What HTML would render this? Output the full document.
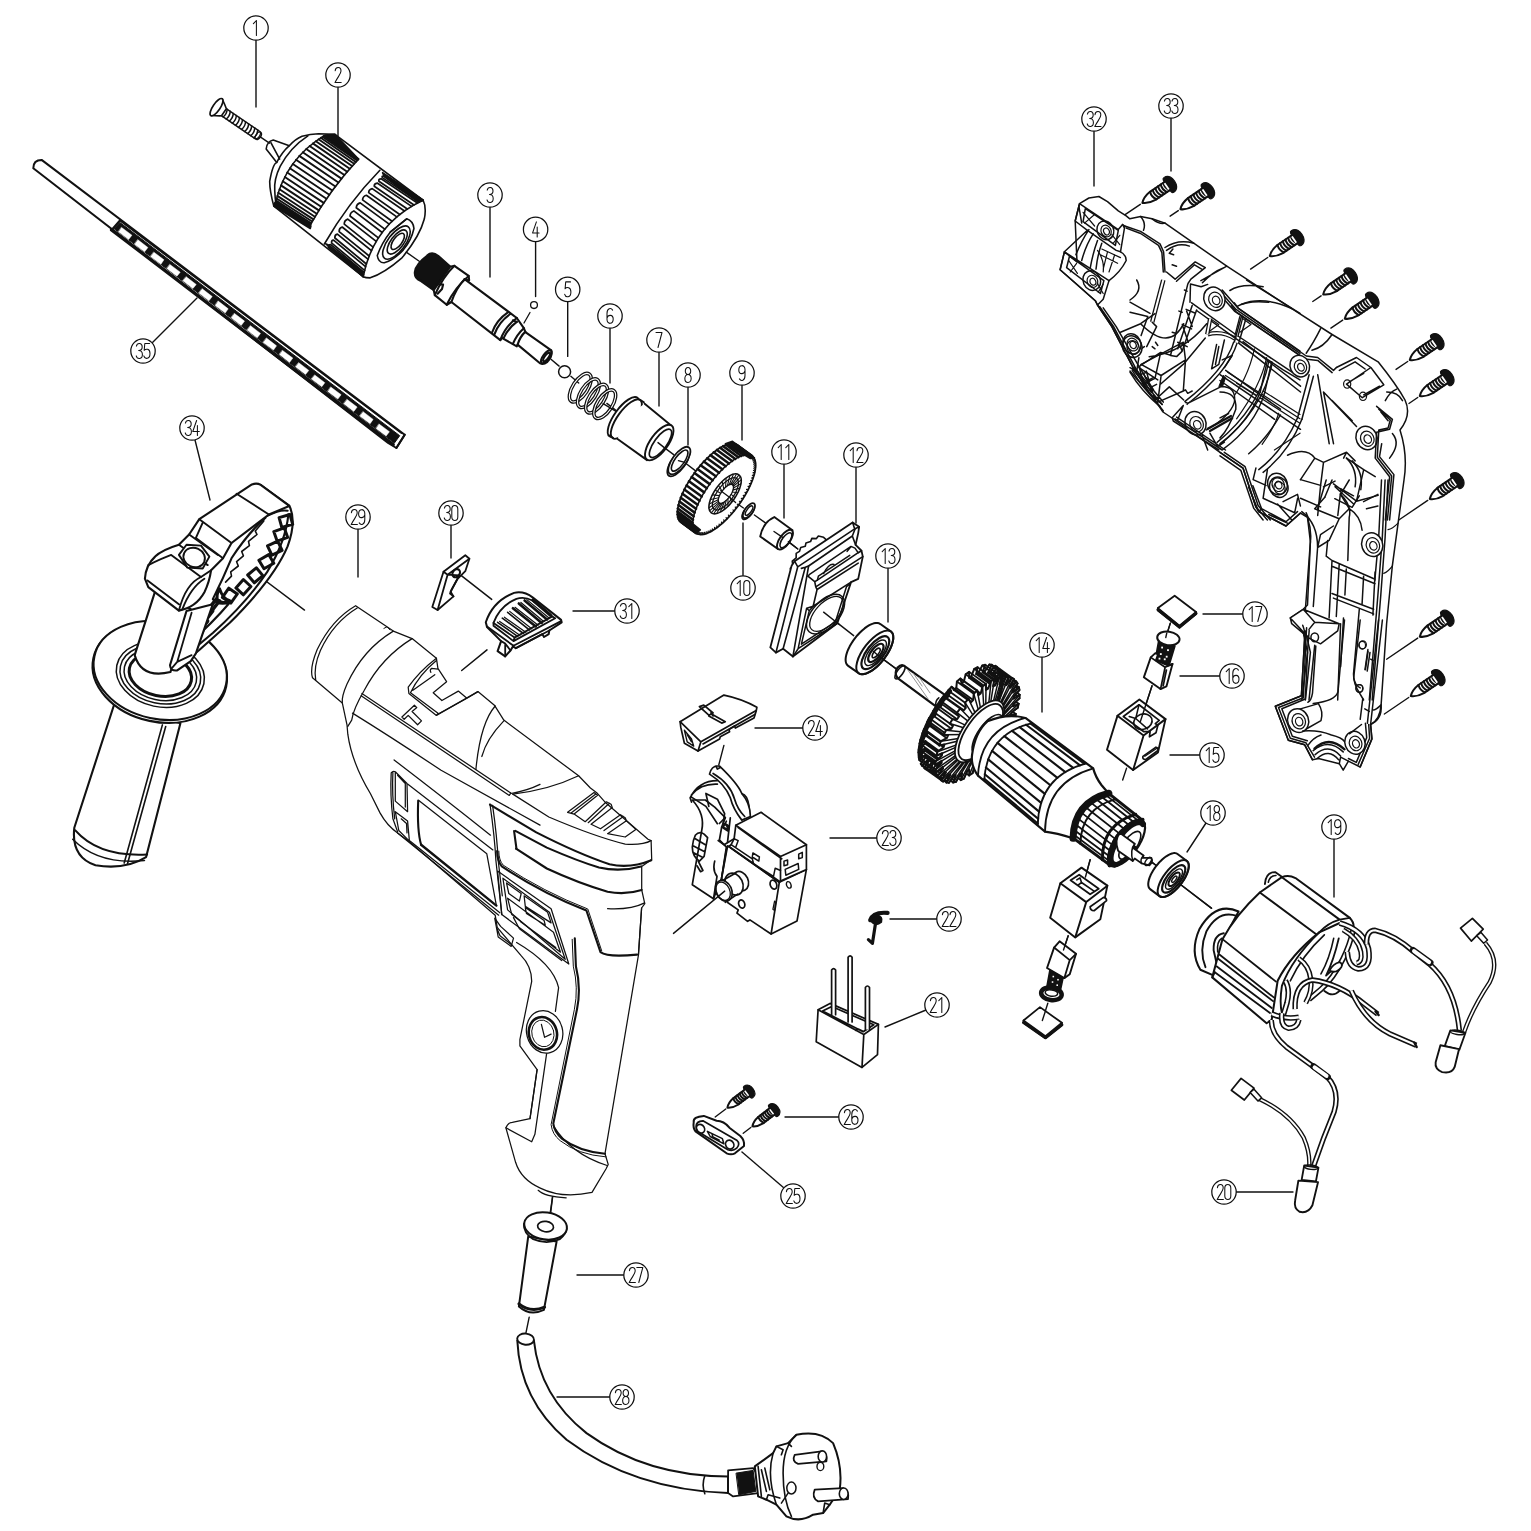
<!DOCTYPE html>
<html><head><meta charset="utf-8"><title>Exploded view</title>
<style>html,body{margin:0;padding:0;background:#fff}svg{display:block}svg *{vector-effect:non-scaling-stroke}</style></head>
<body>
<svg width="1531" height="1531" viewBox="0 0 1531 1531">
<rect width="1531" height="1531" fill="#fff" stroke="none"/>
<g fill="none" stroke="#111" stroke-width="1.6" stroke-linecap="round" stroke-linejoin="round">
<!-- p02_chuck.py -->
<g transform="translate(255,125) scale(0.117570)">
<path d="M95,205 Q100,140 155,128 L292,176 Q340,120 400,95 Q470,78 540,75 L680,80 L1430,640 Q1460,700 1440,800 Q1400,950 1250,1130 Q1100,1260 980,1300 Q940,1300 920,1290 L160,690 Q125,560 125,480 Q150,330 185,318 Z" fill="#fff"/>
<path d="M135,150 L210,290"/>
<path d="M292,176 Q230,230 185,318"/>
<path d="M450,92 Q300,190 215,350 Q160,460 168,560 Q170,620 180,690"/>
<path d="M589.4,90.4 L879.5,290.5" stroke-width="1.9"/>
<path d="M584.2,93.5 L875.8,294.5" stroke-width="1.9"/>
<path d="M574.0,99.7 L868.3,302.5" stroke-width="1.9"/>
<path d="M559.2,109.1 L857.3,314.4" stroke-width="1.9"/>
<path d="M540.3,121.7 L843.1,330.0" stroke-width="1.9"/>
<path d="M517.7,137.5 L825.8,349.2" stroke-width="1.9"/>
<path d="M492.3,156.5 L806.0,371.7" stroke-width="1.9"/>
<path d="M464.7,178.7 L784.0,397.2" stroke-width="1.9"/>
<path d="M435.8,203.9 L760.3,425.5" stroke-width="1.9"/>
<path d="M406.4,232.0 L735.3,456.1" stroke-width="1.9"/>
<path d="M377.1,262.8 L709.6,488.6" stroke-width="1.9"/>
<path d="M348.7,296.0 L683.5,522.6" stroke-width="1.9"/>
<path d="M321.8,331.0 L657.5,557.5" stroke-width="1.9"/>
<path d="M296.7,367.4 L632.1,592.8" stroke-width="1.9"/>
<path d="M273.9,404.6 L607.6,627.9" stroke-width="1.9"/>
<path d="M253.6,441.9 L584.4,662.3" stroke-width="1.9"/>
<path d="M235.9,478.5 L562.8,695.3" stroke-width="1.9"/>
<path d="M220.8,513.7 L543.1,726.4" stroke-width="1.9"/>
<path d="M208.2,546.7 L525.4,755.0" stroke-width="1.9"/>
<path d="M197.9,576.7 L509.9,780.7" stroke-width="1.9"/>
<path d="M189.9,603.0 L496.9,802.8" stroke-width="1.9"/>
<path d="M183.7,624.9 L486.3,821.1" stroke-width="1.9"/>
<path d="M179.4,641.8 L478.4,835.1" stroke-width="1.9"/>
<path d="M176.5,653.4 L473.0,844.6" stroke-width="1.9"/>
<path d="M175.2,659.3 L470.3,849.4" stroke-width="1.9"/>
<path d="M600,86 L680,80 L880,290 L866,296 Z" fill="#111"/>
<path d="M160,690 L170,660 L476,858 L470,880 Z" fill="#111"/>
<path d="M590.0,90.0 Q261.0,287.0 175.0,660.0"/>
<path d="M880.0,290.0 Q640.0,545.0 470.0,850.0"/>
<path d="M1062.0,385.0 Q790.0,665.0 590.0,1012.0"/>
<path d="M1429.6,640.2 L1104.7,425.3 Q1088.3,416.6 1100.6,429.5 L1423.1,643.2" stroke-width="1.7"/>
<path d="M1415.2,647.0 L1095.4,434.8 Q1074.9,430.3 1083.2,447.4 L1396.4,656.3" stroke-width="1.7"/>
<path d="M1381.4,664.0 L1073.2,457.8 Q1049.1,457.4 1053.7,478.5 L1352.4,679.8" stroke-width="1.7"/>
<path d="M1331.8,691.8 L1039.6,493.6 Q1012.5,496.8 1014.1,521.5 L1295.5,714.6" stroke-width="1.7"/>
<path d="M1271.4,731.1 L996.8,540.9 Q967.4,547.2 966.9,575.0 L1231.3,761.0" stroke-width="1.7"/>
<path d="M1206.0,781.9 L947.3,597.9 Q916.7,606.5 914.9,636.8 L1165.7,818.6" stroke-width="1.7"/>
<path d="M1141.2,843.5 L894.3,662.2 Q863.3,672.4 861.1,704.2 L1103.6,886.1" stroke-width="1.7"/>
<path d="M1081.7,914.1 L840.5,730.9 Q810.0,741.6 808.3,774.0 L1049.2,960.7" stroke-width="1.7"/>
<path d="M1030.9,990.4 L788.8,800.7 Q759.5,810.8 759.1,842.6 L1004.7,1038.4" stroke-width="1.7"/>
<path d="M990.5,1068.0 L741.6,867.8 Q714.3,876.2 715.7,906.2 L970.9,1114.1" stroke-width="1.7"/>
<path d="M960.6,1141.4 L700.9,928.6 Q676.0,934.1 679.8,961.3 L947.1,1182.1" stroke-width="1.7"/>
<path d="M940.3,1205.0 L668.3,979.4 Q646.1,981.1 652.8,1004.3 L931.8,1237.0" stroke-width="1.7"/>
<path d="M927.8,1253.5 L644.9,1017.1 Q625.7,1014.1 635.4,1032.8 L923.3,1273.9" stroke-width="1.7"/>
<path d="M921.5,1282.6 L631.4,1039.3 Q615.4,1031.2 628.2,1044.7 L920.1,1289.6" stroke-width="1.7"/>
<path d="M1085,405 L1430,640 L1380,650 L1100,440 Z" fill="#111"/>
<path d="M600,1010 L625,1020 L915,1250 L920,1290 Z" fill="#111"/>
<path d="M1430.0,640.0 Q1010.0,835.0 920.0,1290.0"/>
<path d="M1290,798 Q1345,815 1352,880 Q1330,980 1262,1062 Q1180,1150 1100,1172 Q1050,1175 1040,1110 Q1080,1000 1150,912 Z"/>
<path d="M1290,798 L1150,912"/>
<ellipse cx="1203" cy="1000" rx="168" ry="74" transform="rotate(-53 1203 1000)"/>
<ellipse cx="1210" cy="995" rx="122" ry="54" transform="rotate(-53 1210 995)"/>
<ellipse cx="1214" cy="990" rx="82" ry="36" transform="rotate(-53 1214 990)"/>
</g>
<!-- p03_spindle.py -->
<g stroke-width="2.1">
<g transform="translate(400,220) scale(0.156760)">
<path d="M40,205 L125,265 M965,890 L1015,932 M1090,997 L1140,1040 M1320,1170 L1385,1220" stroke-width="1.4"/>
<path d="M95,330 Q100,280 190,215 Q215,205 245,230 L320,297 L215,447 L130,387 Q90,372 95,330 Z" fill="#111"/>
<path d="M320,298 L347,292 L438,357 L441,384 L412,377 L745,625 L790,690 L800,715 L965,832 Q975,870 940,905 Q915,925 895,915 L750,795 L745,806 L650,752 L640,766 L328,523 L298,541 L222,479 L215,447 Z" fill="#fff"/>
<path d="M347,292 Q275,360 222,479"/>
<path d="M438,357 Q350,430 298,541"/>
<path d="M412,377 Q355,440 328,523"/>
<path d="M232,408 L275,412 L268,440 L240,470"/>
<path d="M690,588 Q615,640 588,716"/>
<path d="M705,598 Q630,650 603,728"/>
<path d="M745,625 Q670,680 640,766"/>
<path d="M745,650 Q690,690 660,755"/>
<path d="M720,640 L745,650"/>
<path d="M790,690 Q745,730 720,790"/>
<path d="M800,712 Q765,745 750,795"/>
<ellipse cx="933" cy="872" rx="50" ry="20" transform="rotate(-53 933 872)"/>
<ellipse cx="935" cy="874" rx="34" ry="12" transform="rotate(-53 935 874)"/>
</g>
</g>
<circle cx="534" cy="305.1" r="3.4" fill="#fff" stroke-width="1.3"/>
<path d="M530,312.5 L524,323" stroke-width="1.3"/>
<circle cx="564.6" cy="371.7" r="6" fill="#fff" stroke-width="1.5"/>
<g transform="translate(400,220) scale(0.156760)">
<ellipse cx="1150" cy="1070" rx="104" ry="48" transform="rotate(-57 1150 1070)" stroke-width="3.6"/>
<ellipse cx="1150" cy="1070" rx="104" ry="48" transform="rotate(-57 1150 1070)" stroke="#fff" stroke-width="1.1"/>
<ellipse cx="1202" cy="1105" rx="104" ry="48" transform="rotate(-57 1202 1105)" stroke-width="3.6"/>
<ellipse cx="1202" cy="1105" rx="104" ry="48" transform="rotate(-57 1202 1105)" stroke="#fff" stroke-width="1.1"/>
<ellipse cx="1254" cy="1140" rx="104" ry="48" transform="rotate(-57 1254 1140)" stroke-width="3.6"/>
<ellipse cx="1254" cy="1140" rx="104" ry="48" transform="rotate(-57 1254 1140)" stroke="#fff" stroke-width="1.1"/>
<ellipse cx="1306" cy="1175" rx="104" ry="48" transform="rotate(-57 1306 1175)" stroke-width="3.6"/>
<ellipse cx="1306" cy="1175" rx="104" ry="48" transform="rotate(-57 1306 1175)" stroke="#fff" stroke-width="1.1"/>
</g>
<!-- p07_sleeve_gear.py -->
<g transform="translate(600,370) scale(0.156760)">
<path d="M20,215 L105,265 M410,495 L470,540 M540,590 L612,645 M865,845 L915,880 M985,925 L1055,975 M1195,1090 L1262,1142" stroke-width="1.4"/>
<ellipse cx="150" cy="300" rx="152" ry="58" transform="rotate(-54 150 300)" fill="#fff" stroke-width="1.9"/>
<ellipse cx="168" cy="313" rx="150" ry="56" transform="rotate(-54 168 313)" fill="#fff" stroke-width="1.9"/>
<path d="M255,190 L280,206 M62,418 L84,434" stroke-width="1.9"/>
<path d="M285,215 L452,352 L300,575 L112,440 Q150,300 285,215 Z" fill="#fff" stroke="none"/>
<path d="M285,215 L452,352 M300,575 L112,440" stroke-width="1.9"/>
<ellipse cx="378" cy="463" rx="134" ry="56" transform="rotate(-54 378 463)" fill="#fff" stroke-width="1.9"/>
<ellipse cx="386" cy="468" rx="108" ry="40" transform="rotate(-54 386 468)" stroke-width="1.7"/>
<path d="M370,463 L410,495" stroke-width="1.4"/>
<ellipse cx="500" cy="590" rx="104" ry="44" transform="rotate(-54 500 590)" stroke-width="1.8"/>
<ellipse cx="506" cy="578" rx="104" ry="44" transform="rotate(-54 506 578)" fill="#fff" stroke-width="1.8"/>
<ellipse cx="508" cy="578" rx="80" ry="30" transform="rotate(-54 508 578)" stroke-width="1.6"/>
<path d="M500,578 L540,590" stroke-width="1.3"/>
<path d="M516.3,969.9 L505.8,959.1 L498.5,944.2 L494.6,925.6 L494.1,903.5 L497.1,878.3 L503.4,850.5 L513.1,820.6 L525.8,788.9 L541.4,756.2 L559.7,722.9 L580.2,689.7 L602.8,657.0 L626.9,625.5 L652.2,595.6 L678.2,568.0 L704.5,543.0 L730.6,521.1 L756.1,502.7 L780.6,488.1 L803.6,477.5 L824.8,471.1 L843.7,469.1 L860.1,471.4 L873.7,478.1 L970.7,549.1 L981.2,559.9 L988.5,574.8 L992.4,593.4 L992.9,615.5 L989.9,640.7 L983.6,668.5 L973.9,698.4 L961.2,730.1 L945.6,762.8 L927.3,796.1 L906.8,829.3 L884.2,862.0 L860.1,893.5 L834.8,923.4 L808.8,951.0 L782.5,976.0 L756.4,997.9 L730.9,1016.3 L706.4,1030.9 L683.4,1041.5 L662.2,1047.9 L643.3,1049.9 L626.9,1047.6 L613.3,1040.9 Z" fill="#fff" stroke-width="1.8"/>
<path d="M516.3,969.9 L613.3,1040.9" stroke-width="2.5"/>
<path d="M507.7,961.6 L604.7,1032.6" stroke-width="2.5"/>
<path d="M501.0,950.6 L598.0,1021.6" stroke-width="2.5"/>
<path d="M496.6,937.2 L593.6,1008.2" stroke-width="2.5"/>
<path d="M494.2,921.4 L591.2,992.4" stroke-width="2.5"/>
<path d="M494.1,903.5 L591.1,974.5" stroke-width="2.5"/>
<path d="M496.2,883.6 L593.2,954.6" stroke-width="2.5"/>
<path d="M500.5,861.9 L597.5,932.9" stroke-width="2.5"/>
<path d="M506.9,838.8 L603.9,909.8" stroke-width="2.5"/>
<path d="M515.4,814.4 L612.4,885.4" stroke-width="2.5"/>
<path d="M525.8,788.9 L622.8,859.9" stroke-width="2.5"/>
<path d="M538.1,762.8 L635.1,833.8" stroke-width="2.5"/>
<path d="M552.1,736.3 L649.1,807.3" stroke-width="2.5"/>
<path d="M567.6,709.6 L664.6,780.6" stroke-width="2.5"/>
<path d="M584.6,683.1 L681.6,754.1" stroke-width="2.5"/>
<path d="M602.8,657.0 L699.8,728.0" stroke-width="2.5"/>
<path d="M622.0,631.7 L719.0,702.7" stroke-width="2.5"/>
<path d="M641.9,607.3 L738.9,678.3" stroke-width="2.5"/>
<path d="M662.5,584.3 L759.5,655.3" stroke-width="2.5"/>
<path d="M683.4,562.8 L780.4,633.8" stroke-width="2.5"/>
<path d="M704.5,543.0 L801.5,614.0" stroke-width="2.5"/>
<path d="M725.4,525.2 L822.4,596.2" stroke-width="2.5"/>
<path d="M746.0,509.6 L843.0,580.6" stroke-width="2.5"/>
<path d="M766.1,496.4 L863.1,567.4" stroke-width="2.5"/>
<path d="M785.4,485.6 L882.4,556.6" stroke-width="2.5"/>
<path d="M803.6,477.5 L900.6,548.5" stroke-width="2.5"/>
<path d="M820.7,472.1 L917.7,543.1" stroke-width="2.5"/>
<path d="M836.4,469.4 L933.4,540.4" stroke-width="2.5"/>
<path d="M850.6,469.5 L947.6,540.5" stroke-width="2.5"/>
<path d="M863.1,472.4 L960.1,543.4" stroke-width="2.5"/>
<path d="M873.7,478.1 L970.7,549.1" stroke-width="2.5"/>
<path d="M613.3,1040.9 L602.8,1030.1 L595.5,1015.2 L591.6,996.6 L591.1,974.5 L594.1,949.3 L600.4,921.5 L610.1,891.6 L622.8,859.9 L638.4,827.2 L656.7,793.9 L677.2,760.7 L699.8,728.0 L723.9,696.5 L749.2,666.6 L775.2,639.0 L801.5,614.0 L827.6,592.1 L853.1,573.7 L877.6,559.1 L900.6,548.5 L921.8,542.1 L940.7,540.1 L957.1,542.4 L970.7,549.1" stroke-width="1.6"/>
<path d="M970.7,549.1 L962.5,560.4 M977.4,555.1 L968.5,565.9 M982.9,562.6 L973.5,572.8 M987.3,571.5 L977.4,581.1 M990.4,581.8 L980.1,590.8 M992.4,593.4 L981.7,601.6 M993.1,606.3 L982.1,613.7 M992.5,620.3 L981.3,626.9 M990.8,635.4 L979.4,641.1 M987.8,651.5 L976.3,656.3 M983.6,668.5 L972.0,672.3 M978.2,686.2 L966.7,689.1 M971.6,704.6 L960.3,706.6 M964.0,723.6 L952.8,724.5 M955.3,743.0 L944.4,743.0 M945.6,762.8 L935.0,761.7 M934.9,782.7 L924.7,780.6 M923.4,802.7 L913.6,799.7 M911.0,822.7 L901.8,818.7 M898.0,842.5 L889.3,837.5 M884.2,862.0 L876.1,856.1 M869.9,881.1 L862.5,874.3 M855.1,899.7 L848.4,892.1 M840.0,917.6 L834.0,909.2 M824.5,934.7 L819.3,925.6 M808.8,951.0 L804.5,941.3 M793.1,966.4 L789.6,956.0 M777.3,980.6 L774.7,969.7 M761.6,993.8 L759.9,982.4 M746.1,1005.7 L745.3,993.9 M730.9,1016.3 L731.0,1004.1 M716.0,1025.5 L717.0,1013.1 M701.6,1033.4 L703.6,1020.7 M687.8,1039.7 L690.6,1027.0 M674.7,1044.6 L678.3,1031.8 M662.2,1047.9 L666.7,1035.1 M650.6,1049.6 L655.9,1037.0 M639.8,1049.8 L645.9,1037.4 M629.9,1048.4 L636.8,1036.3 M621.1,1045.4 L628.7,1033.7 M613.3,1040.9 L621.5,1029.6 " stroke-width="1.2"/>
<path d="M800,470 L845,455 L985,560 L960,565 Z" fill="#111"/>
<path d="M498,905 L510,960 L620,1035 L640,1020 Z" fill="#111"/>
<ellipse cx="798" cy="790" rx="66" ry="150" transform="rotate(36 798 790)" stroke-width="1.6"/>
<ellipse cx="800" cy="790" rx="52" ry="122" transform="rotate(36 800 790)" stroke-width="1.3"/>
<ellipse cx="803" cy="790" rx="30" ry="72" transform="rotate(36 803 790)" stroke-width="1.3"/>
<path d="M827.3,807.6 L839.1,841.5 M816.4,821.1 L816.1,867.0 M804.8,832.7 L791.9,888.0 M793.1,841.8 L768.2,903.3 M782.0,848.0 L746.1,912.1 M772.0,850.7 L727.1,913.7 M763.9,850.0 L712.2,908.1 M758.1,845.7 L702.3,895.7 M754.8,838.2 L698.0,877.2 M754.4,827.9 L699.4,853.6 M756.8,815.4 L706.6,826.2 M761.8,801.5 L719.1,796.8 M769.3,786.8 L736.2,767.0 M778.7,772.4 L756.9,738.5 M789.6,758.9 L779.9,713.0 M801.2,747.3 L804.1,692.0 M812.9,738.2 L827.8,676.7 M824.0,732.0 L849.9,667.9 M834.0,729.3 L868.9,666.3 M842.1,730.0 L883.8,671.9 M847.9,734.3 L893.7,684.3 M851.2,741.8 L898.0,702.8 M851.6,752.1 L896.6,726.4 M849.2,764.6 L889.4,753.8 M844.2,778.5 L876.9,783.2 M836.7,793.2 L859.8,813.0 " stroke-width="1.1"/>
<path d="M770,770 L830,815 M865,845 L830,815" stroke-width="1.3"/>
<ellipse cx="945" cy="905" rx="56" ry="25" transform="rotate(-54 945 905)" fill="#fff" stroke-width="1.8"/>
<ellipse cx="950" cy="897" rx="56" ry="25" transform="rotate(-54 950 897)" fill="#fff" stroke-width="1.8"/>
<ellipse cx="951" cy="897" rx="36" ry="14" transform="rotate(-54 951 897)" stroke-width="1.5"/>
<path d="M1112,938 L1228,1022 L1135,1142 L1022,1062 Q1040,970 1112,938 Z" fill="#fff" stroke-width="1.9"/>
<ellipse cx="1180" cy="1082" rx="74" ry="33" transform="rotate(-54 1180 1082)" fill="#fff" stroke-width="1.9"/>
<ellipse cx="1186" cy="1086" rx="56" ry="24" transform="rotate(-54 1186 1086)" stroke-width="1.6"/>
<path d="M1110,1030 L1165,1068" stroke-width="1.4"/>
</g>
<!-- p12_plate.py -->
<g transform="translate(740,490) scale(0.130634)">
<path d="M370,395 L440,450 M640,935 L870,1115 M1085,1290 L1200,1370" stroke-width="1.4"/>
<path d="M395,640 L385,600 L405,585 L400,545 L430,520 L430,485 L455,470 L465,440 L500,430 L505,405 L540,395 L550,370 L585,372 L600,352 L640,362 L665,385 L640,420 L420,560 Z" fill="#fff" stroke-width="1.6"/>
<path d="M232,1205 L395,580 L418,545 L862,248 L912,282 L905,330 L885,420 L930,465 L940,510 L905,680 L850,705 L745,1020 L405,1275 L330,1215 L275,1245 Z" fill="#fff" stroke-width="1.8"/>
<path d="M275,1245 L442,588 L418,545 M442,588 L878,298 L862,248 M878,298 L912,282" stroke-width="1.6"/>
<path d="M330,1215 L500,592 L470,600 M500,592 L525,582 L405,1275" stroke-width="1.6"/>
<path d="M525,582 L860,352 L885,420 M860,352 L880,300" stroke-width="1.6"/>
<path d="M520,660 L572,702 L592,690 L905,480 L930,465 M572,702 L580,742 L940,510 M580,742 L590,762 L905,560 M590,762 L560,890 L850,705" stroke-width="1.6"/>
<path d="M530,648 L520,660 M530,648 L850,432 L880,445 L905,480 M820,470 L850,432 M592,690 L600,660 L840,500" stroke-width="1.5"/>
<path d="M640,640 Q680,560 720,570" stroke-width="1.4"/>
<path d="M560,890 L510,905 L445,1215 L405,1275 M445,1215 L745,1020 M510,905 L530,925 L470,1180 L730,1010 L815,740 L840,720 M530,925 L560,890" stroke-width="1.5"/>
<ellipse cx="655" cy="950" rx="185" ry="100" transform="rotate(-47 655 950)" stroke-width="1.5"/>
<ellipse cx="662" cy="948" rx="165" ry="84" transform="rotate(-47 662 948)" stroke-width="1.3"/>
<path d="M640,935 L760,1030" stroke-width="1.4"/>
<path d="M825.6,1344.2 L817.9,1335.9 L812.3,1325.1 L809.2,1311.8 L808.4,1296.4 L810.1,1279.1 L814.1,1260.1 L820.5,1239.9 L829.1,1218.7 L839.8,1197.0 L852.4,1175.1 L866.6,1153.3 L882.2,1132.1 L899.0,1111.7 L916.7,1092.7 L935.0,1075.2 L953.5,1059.6 L971.9,1046.1 L990.0,1035.0 L1007.4,1026.5 L1023.8,1020.7 L1039.0,1017.7 L1052.6,1017.5 L1064.5,1020.3 L1074.4,1025.8 L1156.4,1083.8 L1164.1,1092.1 L1169.7,1102.9 L1172.8,1116.2 L1173.6,1131.6 L1171.9,1148.9 L1167.9,1167.9 L1161.5,1188.1 L1152.9,1209.3 L1142.2,1231.0 L1129.6,1252.9 L1115.4,1274.7 L1099.8,1295.9 L1083.0,1316.3 L1065.3,1335.3 L1047.0,1352.8 L1028.5,1368.4 L1010.1,1381.9 L992.0,1393.0 L974.6,1401.5 L958.2,1407.3 L943.0,1410.3 L929.4,1410.5 L917.5,1407.7 L907.6,1402.2 Z" fill="#fff" stroke-width="2.0"/>
<ellipse cx="1032" cy="1243" rx="86" ry="202" transform="rotate(38 1032 1243)" stroke-width="2.0"/>
<ellipse cx="1036" cy="1245" rx="64" ry="152" transform="rotate(38 1036 1245)" stroke-width="2.2"/>
<ellipse cx="1038" cy="1246" rx="50" ry="118" transform="rotate(38 1038 1246)" stroke-width="1.4"/>
<ellipse cx="1040" cy="1247" rx="36" ry="84" transform="rotate(38 1040 1247)" stroke-width="2.2"/>
<ellipse cx="1042" cy="1248" rx="18" ry="44" transform="rotate(38 1042 1248)" fill="#fff" stroke-width="1.6"/>
<path d="M1020,1235 L1085,1290" stroke-width="1.4"/>
</g>
<!-- p14_armature.py -->
<g transform="translate(880,640) scale(0.195950)">
<path d="M0,85 L85,150" stroke-width="1.4"/>
<path d="M120,130 L345,290 L330,330 L280,335 L90,195 Q70,170 90,140 Q105,125 120,130 Z" fill="#fff" stroke-width="2.2"/>
<ellipse cx="102" cy="165" rx="40" ry="15" transform="rotate(-54.6 102 165)" stroke-width="1.6"/>
<path d="M140,150 L245,300 M170,170 L215,235 M200,190 L255,270" stroke-width="0.8" stroke="#777"/>
<path d="M300,295 Q280,310 285,340 M318,300 Q298,318 300,345" stroke-width="1.6"/>
<path d="M506.8,463.4 L517.0,482.9 L500.9,504.1 L482.8,495.1 L472.0,508.0 L475.7,534.3 L458.3,553.3 L446.0,536.4 L434.5,547.7 L431.6,579.7 L413.6,595.8 L407.6,571.7 L396.1,580.8 L386.7,617.1 L368.9,629.4 L369.5,599.3 L358.4,605.9 L342.9,644.8 L326.1,652.9 L333.2,618.0 L323.0,621.7 L302.0,661.7 L287.0,665.2 L300.4,627.0 L291.4,627.7 L266.0,666.9 L253.3,665.7 L272.5,625.8 L265.2,623.5 L236.4,660.3 L226.6,654.4 L250.6,614.7 L245.4,609.5 L214.4,642.1 L208.0,631.8 L235.8,594.0 L232.8,586.0 L201.1,613.2 L198.4,598.9 L228.7,564.6 L228.1,554.3 L197.0,574.8 L198.0,557.1 L229.6,527.9 L231.5,515.7 L202.3,528.6 L207.0,508.3 L238.5,485.4 L242.7,471.8 L216.8,476.5 L225.0,454.6 L255.0,439.0 L261.3,424.6 L239.8,421.0 L251.1,398.3 L278.3,390.7 L286.5,376.2 L270.3,364.4 L284.3,342.0 L307.5,342.7 L317.2,328.6 L307.0,309.1 L323.1,287.9 L341.2,296.9 L352.0,284.0 L348.3,257.7 L365.7,238.7 L378.0,255.6 L389.5,244.3 L392.4,212.3 L410.4,196.2 L416.4,220.3 L427.9,211.2 L437.3,174.9 L455.1,162.6 L454.5,192.7 L465.6,186.1 L481.1,147.2 L497.9,139.1 L490.8,174.0 L501.0,170.3 L522.0,130.3 L537.0,126.8 L523.6,165.0 L532.6,164.3 L558.0,125.1 L570.7,126.3 L551.5,166.2 L558.8,168.5 L587.6,131.7 L597.4,137.6 L573.4,177.3 L578.6,182.5 L609.6,149.9 L616.0,160.2 L588.2,198.0 L591.2,206.0 L622.9,178.8 L625.6,193.1 L595.3,227.4 L595.9,237.7 L627.0,217.2 L626.0,234.9 L594.4,264.1 L592.5,276.3 L621.7,263.4 L617.0,283.7 L585.5,306.6 L581.3,320.2 L607.2,315.5 L599.0,337.4 L569.0,353.0 L562.7,367.4 L584.2,371.0 L572.9,393.7 L545.7,401.3 L537.5,415.8 L553.7,427.6 L539.7,450.0 L516.5,449.3 Z" fill="#fff" stroke-width="2.0"/>
<path d="M506.8,463.4 L592.8,525.4 M517.0,482.9 L603.0,544.9 M500.9,504.1 L586.9,566.1 M482.8,495.1 L568.8,557.1 M472.0,508.0 L558.0,570.0 M475.7,534.3 L561.7,596.3 M458.3,553.3 L544.3,615.3 M446.0,536.4 L532.0,598.4 M434.5,547.7 L520.5,609.7 M431.6,579.7 L517.6,641.7 M413.6,595.8 L499.6,657.8 M407.6,571.7 L493.6,633.7 M396.1,580.8 L482.1,642.8 M386.7,617.1 L472.7,679.1 M368.9,629.4 L454.9,691.4 M369.5,599.3 L455.5,661.3 M358.4,605.9 L444.4,667.9 M342.9,644.8 L428.9,706.8 M326.1,652.9 L412.1,714.9 M333.2,618.0 L419.2,680.0 M323.0,621.7 L409.0,683.7 M302.0,661.7 L388.0,723.7 M287.0,665.2 L373.0,727.2 M300.4,627.0 L386.4,689.0 M291.4,627.7 L377.4,689.7 M266.0,666.9 L352.0,728.9 M253.3,665.7 L339.3,727.7 M272.5,625.8 L358.5,687.8 M265.2,623.5 L351.2,685.5 M236.4,660.3 L322.4,722.3 M226.6,654.4 L312.6,716.4 M250.6,614.7 L336.6,676.7 M245.4,609.5 L331.4,671.5 M214.4,642.1 L300.4,704.1 M208.0,631.8 L294.0,693.8 M235.8,594.0 L321.8,656.0 M232.8,586.0 L318.8,648.0 M201.1,613.2 L287.1,675.2 M198.4,598.9 L284.4,660.9 M228.7,564.6 L314.7,626.6 M228.1,554.3 L314.1,616.3 M197.0,574.8 L283.0,636.8 M198.0,557.1 L284.0,619.1 M229.6,527.9 L315.6,589.9 M231.5,515.7 L317.5,577.7 M202.3,528.6 L288.3,590.6 M207.0,508.3 L293.0,570.3 M238.5,485.4 L324.5,547.4 M242.7,471.8 L328.7,533.8 M216.8,476.5 L302.8,538.5 M225.0,454.6 L311.0,516.6 M255.0,439.0 L341.0,501.0 M261.3,424.6 L347.3,486.6 M239.8,421.0 L325.8,483.0 M251.1,398.3 L337.1,460.3 M278.3,390.7 L364.3,452.7 M286.5,376.2 L372.5,438.2 M270.3,364.4 L356.3,426.4 M284.3,342.0 L370.3,404.0 M307.5,342.7 L393.5,404.7 M317.2,328.6 L403.2,390.6 M307.0,309.1 L393.0,371.1 M323.1,287.9 L409.1,349.9 M341.2,296.9 L427.2,358.9 M352.0,284.0 L438.0,346.0 M348.3,257.7 L434.3,319.7 M365.7,238.7 L451.7,300.7 M378.0,255.6 L464.0,317.6 M389.5,244.3 L475.5,306.3 M392.4,212.3 L478.4,274.3 M410.4,196.2 L496.4,258.2 M416.4,220.3 L502.4,282.3 M427.9,211.2 L513.9,273.2 M437.3,174.9 L523.3,236.9 M455.1,162.6 L541.1,224.6 M454.5,192.7 L540.5,254.7 M465.6,186.1 L551.6,248.1 M481.1,147.2 L567.1,209.2 M497.9,139.1 L583.9,201.1 M490.8,174.0 L576.8,236.0 M501.0,170.3 L587.0,232.3 M522.0,130.3 L608.0,192.3 M537.0,126.8 L623.0,188.8 M523.6,165.0 L609.6,227.0 M532.6,164.3 L618.6,226.3 M558.0,125.1 L644.0,187.1 M570.7,126.3 L656.7,188.3 M551.5,166.2 L637.5,228.2 M558.8,168.5 L644.8,230.5 M587.6,131.7 L673.6,193.7 M597.4,137.6 L683.4,199.6 M573.4,177.3 L659.4,239.3 M578.6,182.5 L664.6,244.5 M609.6,149.9 L695.6,211.9 M616.0,160.2 L702.0,222.2 M588.2,198.0 L674.2,260.0 M591.2,206.0 L677.2,268.0 M622.9,178.8 L708.9,240.8 M625.6,193.1 L711.6,255.1 M595.3,227.4 L681.3,289.4 M595.9,237.7 L681.9,299.7 M627.0,217.2 L713.0,279.2 M626.0,234.9 L712.0,296.9 M594.4,264.1 L680.4,326.1 M592.5,276.3 L678.5,338.3 M621.7,263.4 L707.7,325.4 M617.0,283.7 L703.0,345.7 M585.5,306.6 L671.5,368.6 M581.3,320.2 L667.3,382.2 M607.2,315.5 L693.2,377.5 M599.0,337.4 L685.0,399.4 M569.0,353.0 L655.0,415.0 M562.7,367.4 L648.7,429.4 M584.2,371.0 L670.2,433.0 M572.9,393.7 L658.9,455.7 M545.7,401.3 L631.7,463.3 M537.5,415.8 L623.5,477.8 M553.7,427.6 L639.7,489.6 M539.7,450.0 L625.7,512.0 M516.5,449.3 L602.5,511.3 " stroke-width="1.8"/>
<path d="M592.8,525.4 L603.0,544.9 L586.9,566.1 L568.8,557.1 L558.0,570.0 L561.7,596.3 L544.3,615.3 L532.0,598.4 L520.5,609.7 L517.6,641.7 L499.6,657.8 L493.6,633.7 L482.1,642.8 L472.7,679.1 L454.9,691.4 L455.5,661.3 L444.4,667.9 L428.9,706.8 L412.1,714.9 L419.2,680.0 L409.0,683.7 L388.0,723.7 L373.0,727.2 L386.4,689.0 L377.4,689.7 L352.0,728.9 L339.3,727.7 L358.5,687.8 L351.2,685.5 L322.4,722.3 L312.6,716.4 L336.6,676.7 L331.4,671.5 L300.4,704.1 L294.0,693.8 L321.8,656.0 L318.8,648.0 L287.1,675.2 L284.4,660.9 L314.7,626.6 L314.1,616.3 L283.0,636.8 L284.0,619.1 L315.6,589.9 L317.5,577.7 L288.3,590.6 L293.0,570.3 L324.5,547.4 L328.7,533.8 L302.8,538.5 L311.0,516.6 L341.0,501.0 L347.3,486.6 L325.8,483.0 L337.1,460.3 L364.3,452.7 L372.5,438.2 L356.3,426.4 L370.3,404.0 L393.5,404.7 L403.2,390.6 L393.0,371.1 L409.1,349.9 L427.2,358.9 L438.0,346.0 L434.3,319.7 L451.7,300.7 L464.0,317.6 L475.5,306.3 L478.4,274.3 L496.4,258.2 L502.4,282.3 L513.9,273.2 L523.3,236.9 L541.1,224.6 L540.5,254.7 L551.6,248.1 L567.1,209.2 L583.9,201.1 L576.8,236.0 L587.0,232.3 L608.0,192.3 L623.0,188.8 L609.6,227.0 L618.6,226.3 L644.0,187.1 L656.7,188.3 L637.5,228.2 L644.8,230.5 L673.6,193.7 L683.4,199.6 L659.4,239.3 L664.6,244.5 L695.6,211.9 L702.0,222.2 L674.2,260.0 L677.2,268.0 L708.9,240.8 L711.6,255.1 L681.3,289.4 L681.9,299.7 L713.0,279.2 L712.0,296.9 L680.4,326.1 L678.5,338.3 L707.7,325.4 L703.0,345.7 L671.5,368.6 L667.3,382.2 L693.2,377.5 L685.0,399.4 L655.0,415.0 L648.7,429.4 L670.2,433.0 L658.9,455.7 L631.7,463.3 L623.5,477.8 L639.7,489.6 L625.7,512.0 L602.5,511.3 Z" fill="#fff" stroke-width="2.0"/>
<path d="M603.0,544.9 L570.5,513.4 M586.9,566.1 L562.5,524.0 M561.7,596.3 L549.9,539.2 M544.3,615.3 L541.2,548.7 M517.6,641.7 L527.8,561.9 M499.6,657.8 L518.8,569.9 M472.7,679.1 L505.3,580.6 M454.9,691.4 L496.5,586.7 M428.9,706.8 L483.4,594.4 M412.1,714.9 L475.0,598.5 M388.0,723.7 L463.0,602.8 M373.0,727.2 L455.5,604.6 M352.0,728.9 L445.0,605.4 M339.3,727.7 L438.7,604.8 M322.4,722.3 L430.2,602.1 M312.6,716.4 L425.3,599.2 M300.4,704.1 L419.2,593.1 M294.0,693.8 L416.0,587.9 M287.1,675.2 L412.6,578.6 M284.4,660.9 L411.2,571.4 M283.0,636.8 L410.5,559.4 M284.0,619.1 L411.0,550.6 M288.3,590.6 L413.2,536.3 M293.0,570.3 L415.5,526.2 M302.8,538.5 L420.4,510.3 M311.0,516.6 L424.5,499.3 M325.8,483.0 L431.9,482.5 M337.1,460.3 L437.6,471.2 M356.3,426.4 L447.1,454.2 M370.3,404.0 L454.1,443.0 M393.0,371.1 L465.5,426.6 M409.1,349.9 L473.5,416.0 M434.3,319.7 L486.1,400.8 M451.7,300.7 L494.8,391.3 M478.4,274.3 L508.2,378.1 M496.4,258.2 L517.2,370.1 M523.3,236.9 L530.7,359.4 M541.1,224.6 L539.5,353.3 M567.1,209.2 L552.6,345.6 M583.9,201.1 L561.0,341.5 M608.0,192.3 L573.0,337.2 M623.0,188.8 L580.5,335.4 M644.0,187.1 L591.0,334.6 M656.7,188.3 L597.3,335.2 M673.6,193.7 L605.8,337.9 M683.4,199.6 L610.7,340.8 M695.6,211.9 L616.8,346.9 M702.0,222.2 L620.0,352.1 M708.9,240.8 L623.4,361.4 M711.6,255.1 L624.8,368.6 M713.0,279.2 L625.5,380.6 M712.0,296.9 L625.0,389.4 M707.7,325.4 L622.8,403.7 M703.0,345.7 L620.5,413.8 M693.2,377.5 L615.6,429.7 M685.0,399.4 L611.5,440.7 M670.2,433.0 L604.1,457.5 M658.9,455.7 L598.4,468.8 M639.7,489.6 L588.9,485.8 M625.7,512.0 L581.9,497.0 " stroke-width="1.5"/>
<path d="M206.6,603.6 L205.1,593.5 L204.4,582.7 L204.4,571.2 L205.2,559.0 L206.7,546.3 L209.0,533.0 L212.0,519.2 L215.7,505.0 L220.1,490.4 L225.2,475.4 L231.0,460.1 L237.5,444.7 L244.6,429.0 L252.3,413.2 L260.6,397.4 L269.4,381.5 L278.8,365.7 L288.6,350.0 L298.9,334.5 L309.5,319.2 L320.6,304.2 L332.0,289.5 L343.7,275.2 L355.6,261.3" stroke-width="5"/>
<path d="M605.7,158.0 L608.9,163.4 L611.7,169.3 L614.1,175.7 L616.1,182.6 L617.6,189.8 L618.8,197.6 L619.4,205.7 L619.7,214.2 L619.5,223.2 L618.9,232.4 L617.8,242.1 L616.3,252.0 L614.4,262.3 L612.0,272.8 L609.3,283.6 L606.1,294.6 L602.5,305.8 L598.5,317.3 L594.1,328.9 L589.4,340.6 L584.2,352.4 L578.8,364.4 L572.9,376.4 L566.7,388.4" stroke-width="4"/>
<ellipse cx="508" cy="466" rx="80" ry="185" transform="rotate(35.4 508 466)" fill="#fff" stroke-width="1.8"/>
<ellipse cx="514" cy="470" rx="72" ry="168" transform="rotate(35.4 514 470)" stroke-width="1.8"/>
<ellipse cx="548" cy="480" rx="46" ry="118" transform="rotate(35.4 548 480)" fill="#fff" stroke-width="1.6"/>
<path d="M548,415 Q650,372 742,398 L1088,655 Q1100,700 1130,740 Q1150,765 1168,782 L985,1012 Q900,985 842,978 L500,692 Q462,640 470,585 Q485,470 548,415 Z" fill="#fff" stroke-width="2.2"/>
<path d="M742.0,398.0 Q512.9,456.0 500.0,692.0" stroke-width="1.8"/>
<path d="M775.0,424.0 Q545.9,480.4 532.0,716.0" stroke-width="1.8"/>
<path d="M1052.0,630.0 Q810.5,694.9 805.0,945.0" stroke-width="1.8"/>
<path d="M1088.0,655.0 Q845.7,725.6 842.0,978.0" stroke-width="1.8"/>
<path d="M767.3,426.0 L1043.8,632.3 M745.3,432.4 L1020.7,639.5 M712.5,444.4 L986.3,653.0 M673.9,463.4 L946.0,674.0 M634.7,490.4 L905.4,703.6 M599.7,525.2 L869.5,741.2 M571.9,566.0 L841.5,785.1 M552.4,609.4 L822.5,831.5 M540.7,650.8 L811.7,875.7 M534.8,685.2 L806.8,912.3 M532.5,708.0 L805.3,936.5 " stroke-width="2.1"/>
<path d="M1168,782 L1340,918 Q1352,980 1290,1070 Q1230,1150 1172,1150 L985,1012 Q990,900 1060,830 Q1120,775 1168,782 Z" fill="#fff" stroke-width="2.2"/>
<path d="M1168.0,782.0 Q990.4,828.5 985.0,1012.0" stroke-width="7"/>
<path d="M1205.0,812.0 Q1027.7,857.1 1022.0,1040.0" stroke-width="2"/>
<path d="M1305.0,890.0 Q1131.3,941.0 1135.0,1122.0" stroke-width="3"/>
<path d="M1340.0,918.0 Q1166.9,969.5 1172.0,1150.0" stroke-width="4"/>
<path d="M1162.9,783.4 L1335.0,919.5 M1148.2,787.8 L1320.8,924.3 M1126.1,795.9 L1299.3,933.0 M1099.3,808.5 L1273.5,946.3 M1071.3,826.3 L1246.8,964.7 M1045.1,849.4 L1222.2,988.2 M1023.1,877.1 L1202.0,1016.2 M1006.4,907.8 L1187.3,1046.9 M995.4,939.1 L1178.1,1078.0 M989.1,968.0 L1173.5,1106.6 M986.2,991.4 L1172.0,1129.7 M985.2,1006.7 L1171.9,1144.8 " stroke-width="1.8"/>
<ellipse cx="1258" cy="1036" rx="60" ry="140" transform="rotate(35.4 1258 1036)" fill="#fff" stroke-width="2.2"/>
<path d="M1195.4,1145.8 L1188.4,1142.7 L1183.0,1137.5 L1179.1,1130.2 L1177.0,1121.1 L1176.7,1110.2 L1178.1,1097.8 L1181.2,1084.1 L1186.1,1069.6 L1192.5,1054.3 L1200.3,1038.8 L1209.4,1023.2 L1219.6,1007.9 L1230.7,993.2 L1242.4,979.5 L1254.5,967.0 L1266.8,955.9 L1279.0,946.6 L1290.9,939.1 L1302.1,933.7 L1312.5,930.4 L1321.9,929.4 L1330.0,930.6 L1336.7,934.1 L1341.9,939.7" stroke-width="6"/>
<ellipse cx="1275" cy="1048" rx="34" ry="84" transform="rotate(35.4 1275 1048)" stroke-width="1.6"/>
<path d="M1172,1150 Q1240,1150 1300,1060" stroke-width="4"/>
<path d="M1225,985 L1300,1040 L1292,1062 L1345,1100 L1340,1112 L1385,1112 Q1395,1130 1375,1150 L1335,1140 L1300,1115 L1290,1128 L1215,1075 Q1195,1020 1225,985 Z" fill="#fff" stroke-width="1.8"/>
<path d="M1300,1040 Q1275,1070 1290,1128 M1345,1100 Q1325,1120 1335,1140" stroke-width="1.5"/>
<ellipse cx="1368" cy="1130" rx="12" ry="24" transform="rotate(35.4 1368 1130)" stroke-width="1.4"/>
<path d="M1390,1135 L1420,1160" stroke-width="1.4"/>
</g>
<!-- p15_brushes.py -->
<g transform="translate(1090,580) scale(0.130634)">
<path d="M615,330 L580,440 M475,810 L385,1085 M280,1440 L250,1531" stroke-width="1.4"/>
<path d="M520,215 L648,120 L812,245 L812,260 L685,364 L520,232 Z" fill="#fff" stroke-width="1.8"/>
<path d="M520,215 L685,350 L812,245 M685,350 L685,364" stroke-width="1.8"/>
<path d="M520,228 L685,360 L812,256" stroke-width="3"/>
<path d="M615,330 L598,385" stroke-width="1.4"/>
<path d="M525,470 L650,505 L605,655 L498,620 Z" fill="#111"/>
<g fill="#fff" stroke="none"><rect x="545" y="510" width="14" height="14"/><rect x="590" y="530" width="14" height="14"/><rect x="535" y="560" width="14" height="14"/><rect x="580" y="580" width="14" height="14"/><rect x="525" y="595" width="14" height="14"/><rect x="565" y="600" width="14" height="14"/></g>
<ellipse cx="600" cy="447" rx="86" ry="52" transform="rotate(8 600 447)" fill="#fff" stroke-width="2.0"/>
<path d="M580,440 L588,405" stroke-width="1.4"/>
<path d="M465,592 L500,560 L520,570 L505,615 L600,655 L632,642 L585,815 L540,835 L412,745 Z" fill="#fff" stroke-width="1.9"/>
<path d="M465,592 L575,668 L540,835 M575,668 L632,642 M585,690 L560,810" stroke-width="1.7"/>
<path d="M210,1040 L378,915 L578,1065 L520,1320 L330,1455 L130,1300 Z" fill="#fff" stroke-width="1.9"/>
<path d="M210,1040 L410,1190 L330,1455 M410,1190 L578,1065" stroke-width="1.9"/>
<path d="M255,1045 L375,955 L530,1075 L500,1100 L520,1110 L505,1170 L455,1200 L460,1160 L410,1160 Z" stroke-width="1.7"/>
<path d="M375,955 L350,1060 L300,1045 M350,1060 L440,1140" stroke-width="1.5"/>
<ellipse cx="405" cy="1085" rx="72" ry="58" transform="rotate(-20 405 1085)" stroke-width="1.6"/>
<path d="M475,810 L385,1085" stroke-width="1.4"/>
<path d="M405,1350 L505,1280 Q525,1285 520,1305 L425,1375 Q400,1375 405,1350 Z" fill="#fff" stroke-width="1.7"/>
<path d="M420,1350 L510,1290" stroke-width="1.2"/>
</g>
<g transform="translate(1000,830) scale(0.156760)">
<path d="M575,190 L545,300 M435,675 L405,765 M305,1105 L270,1215 M965,205 L1000,228 M1140,340 L1350,500" stroke-width="1.4"/>
<path d="M385,340 L520,240 L685,355 L640,570 L480,685 L320,560 Z" fill="#fff" stroke-width="1.9"/>
<path d="M385,340 L550,460 L480,685 M550,460 L685,355" stroke-width="1.9"/>
<path d="M450,320 L505,285 L630,375 L575,410 Z" stroke-width="1.8"/>
<path d="M490,318 L510,305 L520,335 L600,390 M520,335 L500,350" stroke-width="1.6"/>
<path d="M575,190 L545,300" stroke-width="1.4"/>
<path d="M575,490 L660,430 Q680,432 680,450 L600,515 Q575,515 575,490 Z" fill="#fff" stroke-width="1.7"/>
<path d="M345,750 L380,710 L485,790 L445,920 L410,945 L300,880 Z" fill="#fff" stroke-width="1.9"/>
<path d="M345,750 L445,830 L410,945 M445,830 L485,790" stroke-width="1.8"/>
<path d="M435,675 L405,765" stroke-width="1.4"/>
<path d="M318,895 L402,945 L385,1025 L298,1005 Z" fill="#111"/>
<g fill="#fff" stroke="none"><rect x="335" y="930" width="10" height="10"/><rect x="365" y="950" width="10" height="10"/><rect x="330" y="965" width="10" height="10"/><rect x="360" y="985" width="10" height="10"/><rect x="325" y="1000" width="10" height="10"/></g>
<ellipse cx="328" cy="1045" rx="66" ry="40" transform="rotate(8 328 1045)" stroke-width="4.5"/>
<ellipse cx="328" cy="1040" rx="40" ry="20" transform="rotate(8 328 1040)" stroke-width="1.5"/>
<path d="M150,1215 L255,1130 L395,1230 L395,1245 L290,1328 L150,1230 Z" fill="#fff" stroke-width="1.8"/>
<path d="M150,1215 L290,1315 L395,1230" stroke-width="1.8"/>
<path d="M150,1228 L290,1325 L395,1243" stroke-width="3"/>
<path d="M290,1155 L270,1215" stroke-width="1.4"/>
<path d="M957.6,376.9 L952.2,371.1 L948.3,363.5 L946.1,354.2 L945.6,343.4 L946.9,331.3 L949.7,318.0 L954.3,303.8 L960.3,289.0 L967.9,273.7 L976.7,258.3 L986.7,243.0 L997.7,228.1 L1009.5,213.8 L1022.0,200.4 L1034.8,188.1 L1047.8,177.1 L1060.7,167.6 L1073.4,159.8 L1085.6,153.7 L1097.1,149.6 L1107.7,147.5 L1117.2,147.4 L1125.5,149.2 L1132.4,153.1 L1192.4,198.1 L1197.8,203.9 L1201.7,211.5 L1203.9,220.8 L1204.4,231.6 L1203.1,243.7 L1200.3,257.0 L1195.7,271.2 L1189.7,286.0 L1182.1,301.3 L1173.3,316.7 L1163.3,332.0 L1152.3,346.9 L1140.5,361.2 L1128.0,374.6 L1115.2,386.9 L1102.2,397.9 L1089.3,407.4 L1076.6,415.2 L1064.4,421.3 L1052.9,425.4 L1042.3,427.5 L1032.8,427.6 L1024.5,425.8 L1017.6,421.9 Z" fill="#fff" stroke-width="2.0"/>
<ellipse cx="1105" cy="310" rx="60" ry="142" transform="rotate(38 1105 310)" stroke-width="2.0"/>
<ellipse cx="1108" cy="312" rx="44" ry="106" transform="rotate(38 1108 312)" stroke-width="2.2"/>
<ellipse cx="1110" cy="313" rx="32" ry="78" transform="rotate(38 1110 313)" stroke-width="1.4"/>
<ellipse cx="1111" cy="314" rx="22" ry="52" transform="rotate(38 1111 314)" stroke-width="2.0"/>
<ellipse cx="1112" cy="314" rx="10" ry="24" transform="rotate(38 1112 314)" stroke-width="1.4"/>
</g>
<!-- p19_stator.py -->
<g transform="translate(1180,850) scale(0.169824)">
<path d="M0,200 L185,342" stroke-width="1.4"/>
<path d="M345,362 Q210,300 115,465 Q55,600 120,705 L200,740 L260,520 Z" fill="#fff" stroke-width="2.0"/>
<path d="M335,388 Q225,350 155,480 Q110,590 150,690" stroke-width="1.9"/>
<path d="M258,490 Q195,500 198,590 L215,665" stroke-width="1.9"/>
<path d="M245,520 Q215,540 222,600" stroke-width="1.6"/>
<path d="M500,200 Q505,130 560,130 L610,165" stroke-width="1.9"/>
<path d="M520,190 Q530,150 565,150" stroke-width="1.6"/>
<path d="M470,250 L600,160 Q640,145 680,165 L1000,400 Q1030,430 1020,470 L940,430 L820,485 Q650,620 575,770 L540,1000 L510,1020 L190,750 L250,525 Q330,380 470,250 Z" fill="#fff" stroke-width="2.0"/>
<path d="M470,250 L800,495 M600,160 L940,410 L1000,400 M940,410 Q870,430 820,485" stroke-width="1.9"/>
<path d="M250,525 L565,775 M232,615 L552,868 M225,640 L548,890 M215,685 L540,930 M205,720 L530,960" stroke-width="1.8"/>
<path d="M190,750 L205,720" stroke-width="1.8"/>
<path d="M820,485 Q660,640 600,800 Q585,900 600,960" stroke-width="1.9"/>
<path d="M850,500 Q720,620 650,770" stroke-width="1.7"/>
<path d="M935,520 Q905,650 860,740 Q900,700 940,690" stroke-width="1.8"/>
<path d="M905,520 Q880,640 830,730" stroke-width="1.6"/>
<path d="M1020,470 Q1000,560 960,640 Q900,760 830,820 L760,880" stroke-width="5.6" stroke-linecap="butt"/>
<path d="M1020,470 Q1000,560 960,640 Q900,760 830,820 L760,880" stroke="#fff" stroke-width="2.4" stroke-linecap="butt"/>
<path d="M940,430 Q1080,470 1110,580 Q1130,700 1050,700 Q990,690 985,600" stroke-width="5.6" stroke-linecap="butt"/>
<path d="M940,430 Q1080,470 1110,580 Q1130,700 1050,700 Q990,690 985,600" stroke="#fff" stroke-width="2.4" stroke-linecap="butt"/>
<path d="M960,470 Q1050,520 1065,600 Q1075,660 1040,665" stroke-width="5.0" stroke-linecap="butt"/>
<path d="M960,470 Q1050,520 1065,600 Q1075,660 1040,665" stroke="#fff" stroke-width="2.0" stroke-linecap="butt"/>
<path d="M880,710 Q920,730 950,690 Q960,670 940,660 Q900,670 880,710 Z" fill="#fff" stroke-width="1.8"/>
<path d="M850,830 Q900,870 940,830" stroke-width="1.8"/>
<path d="M620,770 Q650,820 630,900 L600,1000" stroke-width="5.6" stroke-linecap="butt"/>
<path d="M620,770 Q650,820 630,900 L600,1000" stroke="#fff" stroke-width="2.4" stroke-linecap="butt"/>
<path d="M700,640 Q760,680 770,760 Q780,830 740,900" stroke-width="5.2" stroke-linecap="butt"/>
<path d="M700,640 Q760,680 770,760 Q780,830 740,900" stroke="#fff" stroke-width="2.2" stroke-linecap="butt"/>
<path d="M540,965 Q620,1000 700,985" stroke-width="5.6" stroke-linecap="butt"/>
<path d="M540,965 Q620,1000 700,985" stroke="#fff" stroke-width="2.4" stroke-linecap="butt"/>
<path d="M600,960 Q590,1040 640,1050 Q690,1050 700,1000" stroke-width="5.6" stroke-linecap="butt"/>
<path d="M600,960 Q590,1040 640,1050 Q690,1050 700,1000" stroke="#fff" stroke-width="2.4" stroke-linecap="butt"/>
</g>
<g transform="translate(1200,900) scale(0.216199)">
<path d="M770,205 Q768,140 810,140 Q900,160 990,240 L1060,295 Q1180,400 1200,605" stroke-width="5.4" stroke-linecap="butt"/>
<path d="M770,205 Q768,140 810,140 Q900,160 990,240 L1060,295 Q1180,400 1200,605" stroke="#fff" stroke-width="2.2" stroke-linecap="butt"/>
<path d="M985,232 L1065,290" stroke-width="6.5" stroke="#111"/>
<path d="M990,236 L1060,287" stroke-width="4.0" stroke="#fff"/>
<path d="M1320,200 Q1390,280 1340,380 Q1260,500 1222,610" stroke-width="4.4" stroke-linecap="butt"/>
<path d="M1320,200 Q1390,280 1340,380 Q1260,500 1222,610" stroke="#fff" stroke-width="1.7" stroke-linecap="butt"/>
<path d="M1205,130 L1260,85 L1310,135 L1255,190 Z" fill="#fff" stroke-width="1.7"/>
<path d="M1280,165 L1300,150 L1330,185 L1312,200 Z" fill="#fff" stroke-width="1.5"/>
<path d="M1158,603 L1228,614 L1200,692 L1132,676 Z" fill="#fff" stroke-width="1.8"/>
<path d="M1112,672 L1198,690 L1178,772 Q1165,805 1120,796 Q1085,782 1090,750 Z" fill="#fff" stroke-width="1.9"/>
<ellipse cx="1190" cy="612" rx="32" ry="10" transform="rotate(8 1190 612)" stroke-width="1.5"/>
<path d="M330,555 Q328,620 400,680 L530,775 L585,815 Q650,880 620,980 Q570,1100 525,1232" stroke-width="5.4" stroke-linecap="butt"/>
<path d="M330,555 Q328,620 400,680 L530,775 L585,815 Q650,880 620,980 Q570,1100 525,1232" stroke="#fff" stroke-width="2.2" stroke-linecap="butt"/>
<path d="M525,770 L590,818" stroke-width="6.5" stroke="#111"/>
<path d="M530,774 L585,814" stroke-width="4.0" stroke="#fff"/>
<path d="M275,920 Q420,990 480,1100 Q510,1170 505,1232" stroke-width="4.4" stroke-linecap="butt"/>
<path d="M275,920 Q420,990 480,1100 Q510,1170 505,1232" stroke="#fff" stroke-width="1.7" stroke-linecap="butt"/>
<path d="M145,880 L190,825 L250,870 L205,925 Z" fill="#fff" stroke-width="1.7"/>
<path d="M232,890 L250,875 L285,915 L268,930 Z" fill="#fff" stroke-width="1.5"/>
<path d="M482,1228 L548,1238 L536,1302 L470,1295 Z" fill="#fff" stroke-width="1.8"/>
<path d="M455,1298 L546,1305 L520,1412 Q500,1452 460,1442 Q433,1426 440,1390 Z" fill="#fff" stroke-width="1.9"/>
<ellipse cx="514" cy="1236" rx="32" ry="10" transform="rotate(6 514 1236)" stroke-width="1.5"/>
<path d="M440,505 Q435,385 520,370 Q640,385 760,480 L822,528" stroke-width="5.4" stroke-linecap="butt"/>
<path d="M440,505 Q435,385 520,370 Q640,385 760,480 L822,528" stroke="#fff" stroke-width="2.2" stroke-linecap="butt"/>
<path d="M812,515 L826,532" stroke-width="2.5"/>
<path d="M700,420 Q760,560 880,620 L1000,672" stroke-width="5.4" stroke-linecap="butt"/>
<path d="M700,420 Q760,560 880,620 L1000,672" stroke="#fff" stroke-width="2.2" stroke-linecap="butt"/>
<path d="M992,660 L1002,680" stroke-width="2.5"/>
</g>
<!-- p21_small.py -->
<path d="M870.2,920.2 Q872.9,911.6 887.6,912.9" stroke-width="4.2"/>
<path d="M871.1,921.1 Q875.7,926.6 881.2,922.0 Q883.0,916.5 876.6,915.6 Q871.1,915.6 871.1,921.1 Z" fill="#111" stroke-width="2"/>
<path d="M875.3,924.7 L872.4,943.4 L868.4,939.7" stroke-width="3.2"/>
<path d="M818.1,1009.8 L830.0,1003.4 L878.4,1024.4 L877.5,1054.6 L862.0,1067.4 L816.2,1041.8 Z" fill="#fff" stroke-width="1.7"/>
<path d="M818.1,1009.8 L863.8,1034.5 L862.0,1067.4 M863.8,1034.5 L878.4,1024.4 M822.6,1011.1 L831.8,1006.5 L873.8,1024.8 L863.2,1031.7 Z M855.6,1030.4 L858.3,1029.0 L862.9,1031.2" stroke-width="1.7"/>
<path d="M831.6,1014.7 L831.6,970.1 Q833.6,967.2 835.6,970.1 L835.6,1014.7" fill="#fff" stroke-width="1.7"/>
<path d="M848.1,1022.0 L848.1,957.3 Q850.1,954.4 852.1,957.3 L852.1,1022.0" fill="#fff" stroke-width="1.7"/>
<path d="M865.4,1029.4 L865.4,987.5 Q867.4,984.5 869.5,987.5 L869.5,1029.4" fill="#fff" stroke-width="1.7"/>
<path d="M693.7,1122.3 Q692.8,1116.8 703.8,1115.9 L716.6,1120.8 Q723.9,1120.8 729.4,1127.7 L740.3,1136.0 Q744.9,1140.5 744.0,1146.0 L734.9,1153.3 Q731.2,1155.2 726.6,1153.3 L695.5,1131.4 Q692.8,1127.7 693.7,1122.3 Z" fill="#fff" stroke-width="2.0"/>
<path d="M696.1,1126.3 Q696.1,1121.3 702.9,1120.8 L736.7,1140.2 Q740.7,1143.8 736.7,1148.2 Q733.0,1151.5 727.9,1149.7 L698.3,1131.8 Q696.1,1129.9 696.1,1126.3 Z" stroke-width="1.7"/>
<ellipse cx="700.4828090709583" cy="1128.8441843452815" rx="4" ry="4.6" transform="rotate(-30 700.4828090709583 1128.8441843452815)" stroke-width="1.7"/>
<ellipse cx="729.7439648866131" cy="1144.5720555961962" rx="4" ry="4.6" transform="rotate(-30 729.7439648866131 1144.5720555961962)" stroke-width="1.7"/>
<path d="M707.4,1131.4 L710.2,1136.5 L723.9,1143.8 L722.4,1138.7 Z M712.0,1134.1 L712.9,1136.9 L719.3,1140.2" stroke-width="1.5"/>
<!-- p23_switch.py -->
<path d="M680.1,721.7 L723.9,695.1 Q741.8,698.7 756.9,707.3 L756.2,710.9 L754.0,718.1 L735.4,728.1 L734.6,726.0 L728.9,729.6 L729.6,731.7 L720.3,736.7 L719.6,738.9 L698.0,751.1 L684.4,743.2 L680.8,727.4 Z" fill="#fff" stroke-width="1.7"/>
<path d="M680.1,721.7 L700.9,741.8 L756.2,710.5 M700.9,741.8 L698.0,751.1 M703.0,743.9 L754.8,714.5" stroke-width="1.7"/>
<path d="M699.4,706.6 L703.8,705.1 L713.1,713.0 L708.8,715.2 Z M712.4,714.5 L725.3,721.7 L721.7,723.1 L708.8,715.9 M710.9,713.0 L713.1,715.9" stroke-width="1.7"/>
<path d="M684.4,730.3 L691.5,738.9 L693.7,746.1 L687.2,741.8 Z M687.2,734.6 L691.5,741.8" stroke-width="1.4"/>
<path d="M723.9,745.4 L718.8,764.8" stroke-width="1.4"/>
<path d="M692.3,800.0 Q705.3,814.1 701.7,830.6 L692.3,884.7 L713.5,898.8 L721.7,877.6 L726.4,847.0 L719.4,840.0 L721.7,827.0 L725.3,817.6 L714.7,807.1 L705.3,800.0 Z" fill="#fff" stroke-width="1.7"/>
<path d="M690.1,797.8 Q698.7,780.6 717.4,780.6 M691.5,794.9 Q700.9,783.4 717.4,784.2 M690.1,797.8 L691.5,802.1 M691.5,797.1 L705.9,806.4 L717.4,823.7 M705.9,793.5 L717.4,799.2 L724.6,813.6 L723.2,823.7 M705.9,793.5 L708.8,806.4" stroke-width="1.7"/>
<path d="M709.5,774.1 Q711.7,764.8 719.6,766.2 Q737.5,783.4 741.8,793.5 Q750.4,803.5 750.4,816.5 L741.8,820.1 Q733.2,809.3 730.3,797.8 Q724.6,783.4 709.5,774.1 Z" fill="#fff" stroke-width="1.7"/>
<path d="M713.1,773.4 Q730.3,783.4 734.6,799.2 Q737.5,809.3 744.7,816.5 M741.8,793.5 Q747.6,794.9 749.0,806.4 M716.0,766.2 L717.4,769.1 L720.3,767.6" stroke-width="1.7"/>
<path d="M730.3,817.9 L727.5,842.3 M724.6,823.7 L728.2,826.5 L727.5,830.8 L723.2,828.0 Z" stroke-width="1.7"/>
<path d="M695.3,835.3 Q699.4,830.6 704.1,834.1 L707.6,837.6 L704.1,856.4 L699.4,861.1 Q692.3,856.4 692.3,847.0 Q692.9,840.0 695.3,835.3 Z M695.3,838.8 L705.3,844.7 M693.5,845.9 L704.7,851.7 M694.1,852.9 L702.9,857.6 M698.2,861.1 L702.9,870.5 L700.6,871.7 L697.0,865.8" stroke-width="1.7"/>
<path d="M727.6,845.9 L779.3,882.3 L806.4,869.4 L797.0,921.1 L771.1,934.0 L749.9,919.9 L747.6,921.3 L737.0,913.1 L738.2,909.9 L727.6,902.5 L721.7,877.6 Z" fill="#fff" stroke-width="1.7"/>
<path d="M779.3,882.3 L771.1,934.0 M721.7,877.6 L726.4,849.4 M719.4,840.0 L726.4,847.0 M714.7,861.1 Q712.3,870.5 717.0,876.4 L713.5,898.8" stroke-width="1.7"/>
<path d="M774.6,901.1 L775.8,902.3 L774.6,910.5 L772.9,909.3 Z" stroke-width="1.3"/>
<ellipse cx="773.4563837291323" cy="884.6461321420174" rx="3.2" ry="4.6" transform="rotate(-20 773.4563837291323 884.6461321420174)" stroke-width="1.7"/>
<ellipse cx="788.7397131436633" cy="884.8812602868563" rx="2.2" ry="3.4" transform="rotate(-20 788.7397131436633 884.8812602868563)" stroke-width="1.4"/>
<ellipse cx="741.7140841758759" cy="904.0442040912297" rx="3" ry="4.2" transform="rotate(-20 741.7140841758759 904.0442040912297)" stroke-width="1.7"/>
<path d="M735.8,825.3 L761.1,812.3 L806.4,844.7 L806.4,869.4 L780.5,881.1 L779.3,882.3 L728.8,846.4 L731.1,844.7 L734.1,838.8 Z" fill="#fff" stroke-width="1.7"/>
<path d="M735.8,825.3 L780.5,856.4 L806.4,844.7 M780.5,856.4 L780.5,881.1 M738.2,827.6 L781.7,858.8" stroke-width="1.7"/>
<path d="M728.8,846.4 L779.3,881.1 M731.1,844.7 L752.3,858.8 L753.5,863.5 L760.5,868.2 L773.5,876.4 L775.2,868.2 L780.5,870.5 M752.9,852.9 L759.4,857.0 L758.8,861.1 L752.3,857.0 Z M784.0,861.1 L787.6,860.0 L787.6,864.7 L784.0,865.8 Z M798.7,854.1 L802.3,852.3 L802.3,857.6 L798.7,858.8 Z M785.2,869.4 L798.2,863.5 L798.7,869.4 L785.8,875.2 Z M734.1,838.8 L738.2,840.6 L735.8,847.0" stroke-width="1.5"/>
<path d="M719.4,823.5 L725.3,817.6 M721.7,827.0 L728.8,829.4 L725.3,823.5 L726.4,821.2 M722.9,825.3 L725.8,824.1 L728.8,825.9 L728.8,829.4 M718.2,840.6 L724.1,844.7 L734.1,838.8" stroke-width="1.7"/>
<ellipse cx="740.5384434516811" cy="881.1192099694333" rx="7.6" ry="10" transform="rotate(-25 740.5384434516811 881.1192099694333)" fill="#fff" stroke-width="1.7"/>
<ellipse cx="734.0724194686104" cy="884.05831177992" rx="8.6" ry="11.4" transform="rotate(-25 734.0724194686104 884.05831177992)" fill="#fff" stroke-width="1.7"/>
<path d="M723.5,879.9 L735.8,872.9 M725.3,902.3 L737.6,894.1" stroke-width="1.7"/>
<ellipse cx="723.8443451681167" cy="890.7594639078297" rx="7.8" ry="10.8" transform="rotate(-25 723.8443451681167 890.7594639078297)" fill="#fff" stroke-width="1.7"/>
<ellipse cx="723.1389607335998" cy="891.2297201975076" rx="6.6" ry="9.6" transform="rotate(-25 723.1389607335998 891.2297201975076)" stroke-width="1.3"/>
<path d="M673.5,933.4 L724.7,891.1" stroke-width="1.4"/>
<!-- p27_cord.py -->
<path d="M552.6,1196.6 L549.9,1214.9 M529.2,1317.2 L525.9,1333.2" stroke-width="1.4"/>
<path d="M528.2,1236.6 L518.9,1306.5 Q529.9,1316.5 543.9,1309.9 L556.6,1241.6 Z" fill="#fff" stroke-width="2.0"/>
<path d="M518.9,1303.9 Q530.6,1313.2 544.6,1307.2" stroke-width="3"/>
<path d="M523.9,1223.9 Q523.3,1233.2 533.2,1239.2 Q546.6,1244.9 559.9,1239.2 Q566.6,1233.2 566.6,1228.2" stroke-width="1.8"/>
<ellipse cx="545.5696202531645" cy="1225.9160559626916" rx="21.5" ry="13.5" transform="rotate(8 545.5696202531645 1225.9160559626916)" fill="#fff" stroke-width="2.0"/>
<ellipse cx="545.5696202531645" cy="1226.5822784810127" rx="8" ry="5.2" transform="rotate(8 545.5696202531645 1226.5822784810127)" stroke-width="1.7"/>
<path d="M552.6,1196.6 L550.6,1213.3" stroke-width="1.4"/>
<path d="M517.3,1340.5 Q519.9,1399.8 566.6,1439.8 Q633.2,1489.7 728.1,1493.1 L728.1,1476.4 Q646.5,1476.4 586.5,1433.1 Q539.9,1396.5 533.9,1340.5 Z" fill="#fff" stroke-width="2.0"/>
<ellipse cx="525.582944703531" cy="1339.1738840772819" rx="8.4" ry="5.6" transform="rotate(5 525.582944703531 1339.1738840772819)" fill="#fff" stroke-width="1.9"/>
<path d="M704.8,1475.8 Q701.5,1484.7 704.8,1493.7" stroke-width="1.6"/>
<path d="M728.1,1470.4 L753.1,1468.1 L756.4,1473.1 L758.1,1493.1 L733.1,1496.4 L728.1,1493.1 Z" fill="#fff" stroke-width="1.8"/>
<path d="M736.4,1473.1 L753.1,1470.4 L755.8,1491.4 L739.1,1494.7 Z" fill="#111" stroke-width="1"/>
<path d="M754.8,1466.4 L773.1,1453.1 L776.4,1446.4 L788.1,1443.1 L796.4,1434.8 Q819.7,1429.8 833.1,1443.1 Q843.0,1466.4 839.7,1489.7 L829.7,1504.7 L823.1,1513.1 L813.1,1514.7 Q799.7,1523.1 786.4,1516.4 L776.4,1504.7 L766.4,1499.7 L758.1,1496.4 Z" fill="#fff" stroke-width="2.0"/>
<path d="M773.1,1453.1 Q766.4,1476.4 776.4,1504.7 M776.4,1446.4 L783.1,1449.8 L781.4,1454.8 M788.1,1443.1 L791.4,1446.4 M796.4,1434.8 Q783.1,1446.4 783.1,1473.1 Q783.1,1499.7 791.4,1516.4 M829.7,1504.7 L824.7,1503.1 L823.1,1513.1 M766.4,1499.7 L768.1,1494.7 L779.8,1498.1 M758.1,1466.4 L761.4,1496.4 M761.4,1469.8 L766.4,1491.4 M764.8,1468.1 L769.8,1489.7" stroke-width="1.6"/>
<path d="M794.7,1454.8 L821.4,1451.4 Q828.1,1454.8 826.4,1461.4 L798.1,1463.8 Q791.4,1461.4 794.7,1454.8 Z" fill="#fff" stroke-width="1.8"/>
<ellipse cx="822.3850766155897" cy="1456.4290473017988" rx="4.2" ry="5.6" transform="rotate(0 822.3850766155897 1456.4290473017988)" fill="#fff" stroke-width="1.6"/>
<path d="M814.7,1489.7 L843.0,1488.1 Q849.7,1491.4 848.0,1499.1 L818.1,1501.4 Q811.4,1498.1 814.7,1489.7 Z" fill="#fff" stroke-width="1.8"/>
<ellipse cx="843.7041972018654" cy="1493.7375083277816" rx="4.4" ry="5.8" transform="rotate(0 843.7041972018654 1493.7375083277816)" fill="#fff" stroke-width="1.6"/>
<ellipse cx="820.3864090606263" cy="1466.4223850766157" rx="3.4" ry="4.2" transform="rotate(0 820.3864090606263 1466.4223850766157)" stroke-width="1.4"/>
<ellipse cx="791.4057295136577" cy="1488.074616922052" rx="4.6" ry="6" transform="rotate(0 791.4057295136577 1488.074616922052)" stroke-width="1.5"/>
<path d="M788.1,1493.1 L781.4,1503.1" stroke-width="1.5"/>
<!-- p29_housing.py -->
<path d="M355.6,605.7 L393.3,631.1 L412.1,638.6 L436.4,658.2 Q419.1,671.5 408.2,687.2 L408.9,693.5 L436.4,715.4 L477.9,691.6 L494.4,705.2 L503.8,720.1 L578.6,775.8 L590.4,788.0 L596.7,792.7 L605.7,802.8 L648.0,839.2 L651.1,840.6 L651.7,859.4 L641.7,866.4 L641.7,889.9 L644.6,902.9 L644.8,903.7 L641.6,908.0 L638.4,955.4 L605.0,1153.7 L608.2,1164.4 L606.1,1168.7 L592.0,1192.4 Q561.9,1198.9 540.3,1188.1 Q520.9,1179.5 515.6,1162.3 L505.9,1127.8 Q508.0,1122.4 512.3,1122.4 L530.0,1118.7 L537.1,1069.6 L519.9,1045.9 L519.9,1039.5 L531.7,981.3 Q531.7,966.2 520.9,955.4 L497.2,927.4 L495.2,915.2 L410.0,842.3 L397.6,832.9 Q387.1,825.8 380.0,812.9 L370.5,793.8 Q351.7,762.4 347.8,734.2 L347.0,724.8 L342.3,702.9 L312.5,677.8 Q309.4,668.4 317.2,649.6 Q331.4,619.8 355.6,605.7 Z" fill="#fff" stroke-width="1.25"/>
<path d="M357.2,608.0 Q333.7,622.1 320.4,650.4 Q313.3,666.8 315.7,680.1" stroke-width="1.25"/>
<path d="M383.9,628.4 L387.0,626.8 L390.1,630.0" stroke-width="1"/>
<path d="M393.3,631.1 Q362.7,649.6 347.0,684.1 Q341.5,696.6 342.3,702.9" stroke-width="1.25"/>
<path d="M412.1,638.6 Q381.5,657.4 364.3,690.3 Q353.3,709.1 351.7,720.1 L347.8,726.4" stroke-width="1.25"/>
<path d="M436.4,658.2 L437.9,668.4 L446.6,681.7 L433.2,692.7 L441.9,700.5 L458.3,691.1 L466.9,698.2 L438.7,713.8 L410.5,692.7 Q419.1,674.7 436.4,660.5 M412.9,690.3 L434.8,674.7 M466.9,698.2 L477.9,691.6 M437.9,669.2 L431.7,668.4 Q429.3,669.9 430.9,672.3 M436.4,715.4 L437.9,713.8" stroke-width="1.25"/>
<path d="M401.9,717.0 L414.4,705.2 L416.8,707.6 L412.1,711.5 L421.5,720.9 L417.6,724.8 L408.2,715.4 L404.2,719.3 Z" stroke-width="1.25"/>
<path d="M361.9,693.5 L510.8,793.0 M361.1,695.8 L509.3,795.4 L510.8,793.0" stroke-width="1.25"/>
<path d="M510.8,793.5 Q527.3,790.7 540.0,784.4" stroke-width="1.25"/>
<path d="M352.5,713.1 Q394.1,738.9 441.1,770.3 L540.0,825.1" stroke-width="1.25"/>
<path d="M495.2,706.0 Q480.3,723.2 475.9,769.5 M503.8,720.9 Q486.5,738.9 481.8,756.5" stroke-width="1.25"/>
<path d="M578.6,775.8 Q549.2,789.9 512.8,794.1" stroke-width="1.25"/>
<path d="M567.6,812.3 L594.0,792.6 L597.6,795.3 L574.1,814.1 M571.1,812.9 L595.8,794.1 M574.1,814.1 L585.2,821.7 L606.4,801.8 L611.1,804.3 L612.3,807.6 L591.1,824.3 M588.2,822.7 L609.3,803.2 M591.1,824.3 L600.5,828.8 L620.5,814.7 L625.2,817.7 L626.4,820.8 L607.6,833.7 M604.0,830.6 L623.4,816.5 M607.6,833.7 L625.2,837.0 L635.8,829.4 L626.4,820.8 M567.6,812.3 L574.1,814.1" stroke-width="1.25"/>
<path d="M512.8,794.1 L548.8,817.0 Q595.8,837.0 625.2,844.1 Q642.8,845.3 651.1,840.6" stroke-width="1.25"/>
<path d="M490.0,804.7 L536.3,832.4 Q578.2,853.8 609.5,864.3 Q630.4,868.8 651.3,860.2" stroke-width="2.1"/>
<path d="M514.1,831.1 L516.5,848.8" stroke-width="2.1"/>
<path d="M515.4,830.9 L546.8,847.6 Q578.2,861.2 599.0,867.5 Q619.9,872.3 641.1,866.4" stroke-width="2.1"/>
<path d="M516.0,848.7 L546.8,868.5 Q578.2,883.1 607.6,891.7 Q625.2,895.2 641.7,889.9" stroke-width="2.1"/>
<path d="M497.1,851.1 Q497.1,860.5 501.8,866.4 Q542.9,893.5 586.4,910.5 L600.5,952.2 Q607.6,957.5 637.0,954.6" stroke-width="2.1"/>
<path d="M498.8,851.1 Q498.8,860.0 503.2,865.2 Q544.1,892.1 587.8,909.0 L601.7,950.8" stroke-width="1"/>
<path d="M644.6,902.9 Q631.1,909.9 607.6,908.7" stroke-width="1.25"/>
<path d="M490.0,804.1 Q494.7,837.0 495.9,860.5 L501.8,914.6 M492.6,805.3 Q497.1,837.0 498.2,860.5 L502.3,895.8" stroke-width="1.25"/>
<path d="M418.2,800.6 Q417.0,830.5 421.1,844.7" stroke-width="2.1"/>
<path d="M421.1,844.7 L496.4,905.6" stroke-width="2.4"/>
<path d="M496.4,905.6 L486.8,853.8 L418.8,800.6" stroke-width="1.25"/>
<path d="M407.6,784.1 L492.9,849.9 M394.1,760.0 Q438.8,794.1 490.5,835.2" stroke-width="1.25"/>
<path d="M397.6,832.9 L498.7,915.2 M410.0,841.1 L499.9,912.8" stroke-width="1.25"/>
<path d="M391.2,772.9 Q390.0,795.3 392.9,818.8 L397.6,831.7 M392.9,771.8 Q391.8,795.3 394.7,818.8 M395.3,771.8 L407.0,783.5 L407.6,811.7 L395.3,801.1 Z M397.6,775.3 L405.3,783.5 L405.3,807.0 M395.3,811.7 L407.6,821.1 L409.4,841.1 L398.8,830.5 Z M401.2,818.8 L406.5,823.5 L407.0,832.9 M391.2,772.9 Q392.9,770.6 395.3,771.8" stroke-width="1.25"/>
<path d="M497.6,871.1 L501.8,914.6 L568.8,964.0 L551.1,908.7 Z M502.9,878.2 L507.6,909.9 L565.2,959.3 L549.4,912.3 Z" stroke-width="1.25"/>
<path d="M506.5,882.9 L508.8,893.5 L519.4,901.1 L521.2,893.5 Z M507.6,898.2 L511.8,914.6 L560.5,952.2 L553.5,932.3 Z M524.1,895.8 L547.6,912.3 L551.1,922.9 L525.3,906.4 Z M525.3,907.6 L544.1,920.5 L545.3,925.2 L526.4,913.4 Z M513.5,917.6 L519.4,928.7 L561.7,960.5 M520.6,921.7 L555.8,947.5" stroke-width="1.25"/>
<path d="M494.7,918.2 L498.2,937.0 L511.2,946.4 L513.5,938.1 L500.6,926.4 Z M497.1,928.7 L500.0,935.8 L510.6,944.0" stroke-width="1.25"/>
<path d="M574.8,938.2 L575.9,966.2 Q581.3,987.7 577.0,1009.3 L553.3,1123.5 Q554.3,1132.1 561.9,1138.6 Q579.1,1151.5 605.0,1153.7" stroke-width="2.1"/>
<path d="M572.2,939.3 L573.3,966.2 Q578.7,987.7 574.4,1009.3 L551.1,1124.6 Q552.2,1134.3 560.2,1140.7 Q578.0,1154.7 606.1,1156.9" stroke-width="1"/>
<path d="M516.6,942.5 Q553.3,964.0 558.6,987.7 L555.4,1011.4" stroke-width="1.25"/>
<path d="M546.8,1052.4 L534.9,1134.3 L531.7,1141.8 L505.9,1127.8" stroke-width="1.25"/>
<path d="M530.0,1118.7 L537.1,1069.6" stroke-width="1.25"/>
<path d="M553.3,1125.6 Q570.5,1153.7 607.1,1165.5" stroke-width="1.25"/>
<path d="M638.4,955.4 L641.6,908.0" stroke-width="1.25"/>
<ellipse cx="544.6" cy="1031.9" rx="18" ry="21.5" transform="rotate(-15 544.6 1031.9)" fill="#fff" stroke-width="1.25"/>
<ellipse cx="542.9" cy="1033.4" rx="14" ry="16.5" transform="rotate(-15 542.9 1033.4)" stroke-width="2.6"/>
<ellipse cx="542.9" cy="1033.4" rx="11" ry="13.5" transform="rotate(-15 542.9 1033.4)" stroke-width="1"/>
<path d="M541.4,1024.4 L544.6,1037.3 L551.1,1034.1" stroke-width="1.25"/>
<path d="M538.2,1190.3 Q544.6,1196.7 566.2,1197.8" stroke-width="1.25"/>
<!-- p30_small.py -->
<path d="M459.4,574.1 L491.7,599.4 M461.7,670.5 L487.0,649.9" stroke-width="1.5"/>
<path d="M443.5,571.7 L465.3,555.3 L469.4,558.8 L465.3,571.2 L457.6,578.8 L450.6,591.7 L453.5,596.4 L437.6,610.0 L432.3,607.0 Z" fill="#fff" stroke-width="1.8"/>
<path d="M443.5,571.7 L447.6,574.7 L469.4,558.8 M447.6,574.7 L437.6,610.0 M447.6,574.7 L459.4,575.3 L451.7,589.4 L450.0,593.5 L453.5,596.4" stroke-width="1.8"/>
<ellipse cx="456.2097343051963" cy="573.1530684222902" rx="3.4" ry="4.4" transform="rotate(35 456.2097343051963 573.1530684222902)" stroke-width="2.2"/>
<path d="M485.8,622.3 Q492.9,601.1 514.1,592.9 Q523.5,590.6 532.9,597.6 L561.1,619.9 L561.7,622.3 L549.3,630.5 L548.7,634.1 L544.0,637.0 L542.3,634.1 L515.8,648.2 L512.9,646.4 L510.5,650.5 L505.2,656.4 L497.6,651.1 L501.1,641.1 L487.0,627.0 Z" fill="#fff" stroke-width="2.0"/>
<path d="M493.5,622.9 Q499.9,605.8 516.4,598.8 Q524.6,596.4 532.3,600.5 L552.3,616.4 L514.6,637.6 Z" stroke-width="1.8"/>
<path d="M487.0,626.4 L513.5,645.8 L561.1,621.1 M514.6,637.6 L513.5,641.1 L493.5,625.8 L493.5,622.9 M513.5,641.1 L555.2,618.2 L552.3,616.4 M501.1,641.1 L505.2,643.5 L510.5,650.5 M505.2,643.5 L505.2,656.4 M515.8,648.2 L549.3,630.5" stroke-width="1.8"/>
<path d="M497.6,622.3 L517.6,636.4" stroke-width="1.6"/>
<path d="M499.7,621.4 L519.9,635.2" stroke-width="1.2"/>
<path d="M502.3,618.2 L523.5,633.5" stroke-width="1.6"/>
<path d="M504.4,617.2 L525.8,632.3" stroke-width="1.2"/>
<path d="M507.6,612.3 L529.3,629.9" stroke-width="1.6"/>
<path d="M509.7,611.4 L531.7,628.8" stroke-width="1.2"/>
<path d="M512.9,608.2 L535.8,626.4" stroke-width="2.6"/>
<path d="M515.0,607.3 L538.2,625.2" stroke-width="1.2"/>
<path d="M518.8,603.5 L541.7,622.9" stroke-width="2.6"/>
<path d="M520.9,602.5 L544.0,621.7" stroke-width="1.2"/>
<path d="M524.6,600.5 L547.0,619.4" stroke-width="2.6"/>
<path d="M526.8,599.6 L549.3,618.2" stroke-width="1.2"/>
<path d="M532.9,600.0 L550.5,615.2" stroke-width="3.2"/>
<!-- p32_housing.py -->
<path d="M1075.2,221 L1079.5,203.7 L1088.9,198 L1098.9,196.5 L1107.5,201.6 L1118.3,210.9 L1126.2,215.9 L1129.8,218.8 L1140.6,216.6 L1152.1,218.8 L1165,223.1 L1226.8,266.2 L1291.8,308.6 L1332.1,334.5 L1378.1,361.8 Q1396.7,385 1405,400 Q1412,415 1400,430 Q1408,455 1404,480 L1398.1,523.1 L1392.3,566.2 L1386.6,623.7 L1381.1,704.9 Q1380,720 1370.6,724.5 L1371.9,738.9 L1360.2,767 L1348.4,761.1 L1343.2,770.2 L1339.3,763.7 L1318.4,758.5 L1312.5,759.8 L1304.7,744.8 L1288.3,740.2 L1275.3,706.2 L1301.4,695.8 L1304.7,637 L1303.2,632.3 L1290.3,618 L1303.2,609.3 L1307.5,605 L1310.4,541.8 L1307.5,517.4 L1300.4,513 L1286,526 L1258.7,511.6 L1255.9,506.9 L1243,468.1 L1220,452.3 L1175,420 L1163,412 L1155,400 L1149.2,392.7 L1133.4,368.2 L1111.9,326.6 L1097.5,305 L1095.3,300.7 L1060.1,269.8 L1064.4,251.9 L1077,262 Z" fill="#fff" stroke-width="1.5"/>
<path d="M1075.2,221.0 L1079.5,203.7 L1118.3,229.6 L1122.6,224.5 L1124.8,226.0 L1120.5,251.8 L1116.2,250.4 L1087.4,230.3 Z" stroke-width="1.5"/>
<path d="M1083.1,221.7 L1085.3,208.7 L1118.3,230.3 L1115.4,245.4 Z M1078.8,205.9 L1081.7,223.1 M1085.3,208.7 L1083.1,221.7" stroke-width="1.5"/>
<path d="M1083.1,212.3 L1094.6,226.0 M1094.6,214.5 L1084.5,223.1 M1111.8,234.6 L1119.8,244.7 M1119.8,235.3 L1113.3,243.2" stroke-width="1.2"/>
<ellipse cx="1105.3829573214543" cy="230.2945825549648" rx="8.2" ry="9.6" transform="rotate(-25 1105.3829573214543 230.2945825549648)" stroke-width="1.5"/>
<ellipse cx="1106.1014513579537" cy="231.01307659146428" rx="5" ry="6" transform="rotate(-25 1106.1014513579537 231.01307659146428)" stroke-width="1.2"/>
<ellipse cx="1106.5325477798535" cy="231.44417301336398" rx="2.8" ry="3.6" transform="rotate(-25 1106.5325477798535 231.44417301336398)" stroke-width="1.2"/>
<path d="M1060.1,269.8 L1064.4,251.8 L1109.0,280.6 L1103.2,299.3 L1097.5,305.0 L1095.3,300.7 L1075.9,283.5 Z M1066.6,267.7 L1069.5,256.2 L1103.9,280.6 L1100.4,293.5 Z" stroke-width="1.5"/>
<path d="M1068.7,260.5 L1077.4,273.4 M1076.6,263.3 L1070.2,272.0 M1097.5,283.5 L1103.2,293.5 M1103.2,284.2 L1098.2,292.1" stroke-width="1.2"/>
<ellipse cx="1091.7315706279637" cy="280.5891651099296" rx="8.6" ry="10" transform="rotate(-25 1091.7315706279637 280.5891651099296)" stroke-width="1.5"/>
<ellipse cx="1092.4500646644633" cy="281.3076591464291" rx="5.2" ry="6.2" transform="rotate(-25 1092.4500646644633 281.3076591464291)" stroke-width="1.2"/>
<ellipse cx="1092.881161086363" cy="281.73875556832877" rx="2.8" ry="3.6" transform="rotate(-25 1092.881161086363 281.73875556832877)" stroke-width="1.2"/>
<path d="M1088.9,229.6 Q1081.7,240.4 1075.9,254.7 M1093.2,233.9 Q1086.0,244.7 1081.7,260.5 M1097.5,240.4 Q1093.2,251.8 1090.3,267.7 M1101.8,243.2 Q1097.5,254.7 1096.0,269.1 M1087.4,230.3 L1064.4,251.8 M1120.5,251.8 Q1126.2,254.7 1126.2,260.5 Q1120.5,272.0 1109.0,280.6" stroke-width="1.5"/>
<path d="M1101.8,249.0 L1120.5,257.6 M1100.4,254.7 L1117.6,263.3 M1107.5,251.8 L1103.2,269.1 M1114.7,254.7 L1109.0,272.0 M1097.5,250.4 Q1104.7,260.5 1103.2,272.0" stroke-width="1.2"/>
<path d="M1124.8,226.0 L1140.6,231.4 L1160.0,243.9 L1163.6,251.8 L1165.0,272.0 M1126.2,228.1 L1140.6,233.5 L1158.5,245.4 L1161.9,252.6 L1163.3,272.0 M1124.1,227.4 L1122.6,224.5" stroke-width="1.5"/>
<path d="M1140.6,216.6 Q1146.3,223.1 1143.5,230.3 M1152.1,218.8 Q1159.3,224.5 1165.0,223.1 M1165.0,247.5 Q1177.9,238.9 1193.8,243.2 M1166.5,250.4 Q1177.9,241.8 1189.4,246.1 M1226.8,266.2 L1200.9,280.6 M1223.9,267.7 Q1212.4,272.0 1202.4,282.7" stroke-width="1.5"/>
<path d="M1175.1,279.2 L1195.2,261.9 L1205.3,267.7 L1190.9,279.2 L1188.0,283.5 M1176.5,281.3 L1194.5,264.8 L1201.7,269.1 M1166.5,272.0 L1175.1,279.2 M1172.2,264.8 L1176.5,266.2 M1172.9,249.0 L1169.3,253.3 L1173.6,254.7" stroke-width="1.5"/>
<path d="M1254.4,348.8 Q1247.7,379.9 1227.7,404.4 M1266.6,357.7 Q1261.0,385.5 1236.6,418.8 M1225.5,375.5 L1300.0,423.2 M1227.7,372.2 L1300.0,418.8 M1236.6,383.3 L1261.0,398.8 M1263.2,391.0 L1300.0,414.4 M1278.8,413.2 Q1274.4,427.7 1262.1,444.3 M1300.0,433.2 L1274.4,450.0" stroke-width="1.2"/>
<path d="M1183.3,342.2 L1141.1,364.4 L1161.1,375.5 L1185.5,359.9 Z M1161.1,375.5 L1157.8,402.1 L1183.3,391.0 L1185.5,389.9 L1187.7,393.3 L1192.2,391.0 M1185.5,359.9 L1183.3,391.0 M1141.1,364.4 L1138.9,367.7 L1157.8,379.9 M1130.0,371.1 L1160.0,406.6 L1163.3,411.0 M1132.2,368.8 L1162.2,404.4 M1134.4,367.7 L1163.3,402.1 M1146.7,377.7 L1155.5,399.9 M1148.9,379.9 L1153.3,377.7 M1152.2,386.6 L1156.6,384.4" stroke-width="1.5"/>
<path d="M1235.5,342.2 Q1226.6,371.1 1185.5,403.3" stroke-width="5.0" stroke-linecap="butt"/>
<path d="M1235.5,342.2 Q1226.6,371.1 1185.5,403.3" stroke="#fff" stroke-width="2.2" stroke-linecap="butt"/>
<path d="M1270.5,362.2 Q1262.1,407.7 1217.7,444.3" stroke-width="5.0" stroke-linecap="butt"/>
<path d="M1270.5,362.2 Q1262.1,407.7 1217.7,444.3" stroke="#fff" stroke-width="2.2" stroke-linecap="butt"/>
<path d="M1207.7,334.4 Q1222.2,330.5 1235.5,338.9" stroke-width="4.4" stroke-linecap="butt"/>
<path d="M1207.7,334.4 Q1222.2,330.5 1235.5,338.9" stroke="#fff" stroke-width="1.8" stroke-linecap="butt"/>
<path d="M1191.6,302.8 L1237.2,335.5 L1292.1,372.2 M1196.6,310.5 L1234.4,337.7 L1283.2,369.9 L1300.0,379.9" stroke-width="1.5"/>
<path d="M1210.2,318.3 L1207.2,334.4" stroke-width="4.4" stroke-linecap="butt"/>
<path d="M1210.2,318.3 L1207.2,334.4" stroke="#fff" stroke-width="1.8" stroke-linecap="butt"/>
<path d="M1241.4,316.6 L1236.4,336.1" stroke-width="4.4" stroke-linecap="butt"/>
<path d="M1241.4,316.6 L1236.4,336.1" stroke="#fff" stroke-width="1.8" stroke-linecap="butt"/>
<path d="M1212.2,320.0 L1218.8,324.4 L1209.9,331.1 M1243.3,318.9 L1251.0,324.4 L1239.9,332.2" stroke-width="1.2"/>
<path d="M1187.7,284.4 L1170.5,355.5 L1176.6,356.6 L1182.2,351.1 L1196.6,310.0 M1192.2,305.5 L1177.7,348.8 M1186.1,309.4 L1195.5,313.3 M1182.2,324.4 L1191.6,328.9 M1177.7,342.2 L1187.2,346.6 M1186.6,311.1 L1192.2,326.6 M1182.7,326.1 L1188.3,342.2 M1178.9,343.3 L1182.2,351.1 M1184.4,290.0 L1187.2,291.1 M1178.9,311.1 L1182.2,312.2 M1172.2,332.2 L1175.5,333.3" stroke-width="1.5"/>
<path d="M1216.6,344.4 L1211.6,368.8 L1218.8,364.4 L1224.4,340.0 M1218.8,346.6 L1215.5,364.4 M1222.2,359.9 L1232.2,355.5 L1224.4,367.7" stroke-width="1.5"/>
<path d="M1223.3,375.5 L1218.8,386.6 L1222.2,387.7 L1225.5,377.7 Z" fill="#111" stroke-width="1"/>
<path d="M1190.5,283.9 L1201.1,286.7 L1207.7,284.4 M1190.0,302.2 L1190.5,283.9 M1222.2,290.0 L1237.7,307.8 L1300.0,351.1 M1220.5,291.7 L1236.0,309.4 L1300.0,353.3 M1218.8,293.3 L1234.4,311.1 L1300.0,355.5 M1229.9,290.5 Q1241.0,283.3 1263.2,286.7 M1236.6,306.6 Q1247.7,300.0 1268.8,302.2 M1246.6,280.0 L1300.0,313.3" stroke-width="1.5"/>
<ellipse cx="1214.3881856540083" cy="298.87630468576504" rx="10.4" ry="12" transform="rotate(-25 1214.3881856540083 298.87630468576504)" fill="#fff" stroke-width="1.5"/>
<ellipse cx="1215.498556517877" cy="299.7646013768599" rx="6.6" ry="7.8" transform="rotate(-25 1215.498556517877 299.7646013768599)" stroke-width="1.2"/>
<ellipse cx="1216.164779036198" cy="300.430823895181" rx="3.6" ry="4.4" transform="rotate(-25 1216.164779036198 300.430823895181)" stroke-width="1.2"/>
<path d="M1163.3,280.0 L1152.2,322.2" stroke-width="4.6" stroke-linecap="butt"/>
<path d="M1163.3,280.0 L1152.2,322.2" stroke="#fff" stroke-width="2.0" stroke-linecap="butt"/>
<path d="M1130.0,302.2 L1150.0,313.3 M1130.0,312.2 L1147.8,316.6 L1141.1,335.5 M1152.2,322.2 L1156.6,326.6 L1146.7,346.6 M1130.0,357.7 L1141.1,348.8 L1144.4,346.6 M1136.7,280.0 Q1143.3,291.1 1130.0,300.0 M1155.5,342.2 L1157.8,345.5 M1152.2,346.6 L1155.0,348.8" stroke-width="1.5"/>
<ellipse cx="1132.220741727737" cy="346.62225183211194" rx="9.6" ry="11" transform="rotate(-25 1132.220741727737 346.62225183211194)" fill="#fff" stroke-width="1.5"/>
<ellipse cx="1133.109038418832" cy="347.51054852320675" rx="6" ry="7" transform="rotate(-25 1133.109038418832 347.51054852320675)" stroke-width="1.2"/>
<path d="M1130.0,367.7 L1136.7,371.1 L1138.9,357.7 M1137.8,373.3 L1144.4,386.6 M1143.3,373.3 L1152.2,391.0 M1141.1,374.4 L1146.7,372.2 M1145.5,383.3 L1151.1,379.9" stroke-width="1.5"/>
<path d="M1130.0,372.2 Q1141.1,391.0 1160.0,406.6 M1132.2,370.5 Q1143.3,389.9 1162.2,404.4" stroke-width="1.5"/>
<path d="M1187.7,403.3 L1221.1,386.6 Q1236.6,386.6 1234.4,402.1 Q1229.9,416.6 1206.6,429.9" fill="#fff" stroke-width="1.5"/>
<path d="M1207.7,428.8 L1231.0,416.0 M1209.9,431.0 L1232.2,418.2" stroke-width="2.2"/>
<ellipse cx="1195.5118809682433" cy="423.2378414390406" rx="10.4" ry="12" transform="rotate(-25 1195.5118809682433 423.2378414390406)" fill="#fff" stroke-width="1.5"/>
<ellipse cx="1196.622251832112" cy="424.1261381301355" rx="6.6" ry="7.8" transform="rotate(-25 1196.622251832112 424.1261381301355)" stroke-width="1.2"/>
<ellipse cx="1197.288474350433" cy="424.79236064845657" rx="3.6" ry="4.4" transform="rotate(-25 1197.288474350433 424.79236064845657)" stroke-width="1.2"/>
<path d="M1183.3,405.5 L1177.7,419.9 M1185.5,402.1 L1187.7,403.3 M1173.3,421.0 L1218.8,450.0 M1175.0,418.8 L1222.2,450.0 M1176.6,417.1 L1225.5,450.0 M1173.3,421.0 L1172.2,417.7 L1183.3,405.5 M1202.2,435.5 L1207.7,450.0 M1209.9,433.2 L1217.7,446.6 L1224.4,442.1" stroke-width="1.5"/>
<path d="M1097.5,305.0 L1111.8,326.6 L1133.4,368.2 L1149.2,392.7 L1155.0,400.0 M1099.6,306.5 L1114.0,327.3 L1135.6,368.2 L1151.4,392.7 M1103.2,307.9 L1116.2,326.6 L1139.2,366.8 L1153.5,389.8" stroke-width="1.5"/>
<ellipse cx="1131.9672366719356" cy="343.8166403218853" rx="8.8" ry="10.4" transform="rotate(-25 1131.9672366719356 343.8166403218853)" stroke-width="1.5"/>
<ellipse cx="1132.6857307084351" cy="344.5351343583848" rx="5.4" ry="6.6" transform="rotate(-25 1132.6857307084351 344.5351343583848)" stroke-width="1.2"/>
<ellipse cx="1133.1168271303347" cy="344.9662307802845" rx="3" ry="3.8" transform="rotate(-25 1133.1168271303347 344.9662307802845)" stroke-width="1.2"/>
<path d="M1120.5,332.3 L1140.6,323.7 L1155.0,313.6 M1140.6,365.4 L1160.7,352.4 L1170.8,355.3 M1139.2,366.8 L1143.5,384.0 L1155.0,378.3 L1160.7,352.4 M1146.3,371.1 L1149.2,381.2 M1155.0,400.0 L1169.3,386.9 L1183.7,400.0 M1160.7,384.0 L1183.7,363.9 L1205.3,338.1 M1140.6,323.7 Q1169.3,352.4 1183.7,323.7 M1149.2,356.7 Q1183.7,352.4 1206.7,323.7" stroke-width="1.5"/>
<path d="M1234.4,302.9 L1238.7,308.6 L1306.2,356.0 L1317.7,357.5 L1333.5,370.4 L1336.4,367.5 M1231.5,305.7 L1235.8,311.5 L1304.8,358.9 L1317.7,360.4 L1332.1,372.6 M1241.6,304.3 Q1263.1,295.7 1291.8,308.6" stroke-width="1.5"/>
<path d="M1332.1,334.5 Q1323.5,347.4 1312.0,350.3 M1320.6,328.7 Q1313.4,343.1 1306.2,353.2" stroke-width="1.5"/>
<path d="M1336.4,367.5 L1356.5,357.5 L1370.9,367.5 L1346.5,384.1 M1346.5,384.1 L1362.3,397.7 L1383.8,384.8 L1370.9,367.5 M1339.3,370.4 L1355.1,361.8 L1365.1,369.0 M1349.3,381.9 L1363.7,373.3 M1363.7,394.8 L1379.5,386.2 M1386.7,392.0 Q1398.2,392.0 1402.5,400.6" stroke-width="1.5"/>
<ellipse cx="1347.173444460411" cy="384.06380227044116" rx="3.6" ry="4.2" transform="rotate(0 1347.173444460411 384.06380227044116)" stroke-width="1.2"/>
<ellipse cx="1362.9803132634" cy="396.2782008909326" rx="3.6" ry="4.2" transform="rotate(0 1362.9803132634 396.2782008909326)" stroke-width="1.2"/>
<ellipse cx="1299.752838051444" cy="366.10145135795375" rx="9.6" ry="11" transform="rotate(-25 1299.752838051444 366.10145135795375)" fill="#fff" stroke-width="1.5"/>
<ellipse cx="1300.4713320879437" cy="366.8199453944532" rx="6" ry="7" transform="rotate(-25 1300.4713320879437 366.8199453944532)" stroke-width="1.2"/>
<ellipse cx="1300.9024285098433" cy="367.25104181635294" rx="3.2" ry="4" transform="rotate(-25 1300.9024285098433 367.25104181635294)" stroke-width="1.2"/>
<ellipse cx="1366.5727834458974" cy="437.95085500790344" rx="10.4" ry="12" transform="rotate(-25 1366.5727834458974 437.95085500790344)" fill="#fff" stroke-width="1.5"/>
<ellipse cx="1367.291277482397" cy="438.6693490444029" rx="6.6" ry="7.8" transform="rotate(-25 1367.291277482397 438.6693490444029)" stroke-width="1.2"/>
<ellipse cx="1367.7223739042965" cy="439.10044546630263" rx="3.6" ry="4.4" transform="rotate(-25 1367.7223739042965 439.10044546630263)" stroke-width="1.2"/>
<ellipse cx="1277.4795229199597" cy="483.9344733438712" rx="9.6" ry="11" transform="rotate(-25 1277.4795229199597 483.9344733438712)" fill="#fff" stroke-width="1.5"/>
<ellipse cx="1278.1980169564592" cy="484.65296738037074" rx="6" ry="7" transform="rotate(-25 1278.1980169564592 484.65296738037074)" stroke-width="1.2"/>
<ellipse cx="1278.6291133783589" cy="485.08406380227046" rx="3.2" ry="4" transform="rotate(-25 1278.6291133783589 485.08406380227046)" stroke-width="1.2"/>
<path d="M1241.6,315.8 L1234.4,341.7 M1245.9,318.7 L1238.7,343.1 M1238.7,343.1 L1300.5,392.0 M1243.0,341.7 L1300.5,386.2 M1267.4,360.4 L1260.2,392.0 M1271.7,361.8 L1264.5,393.4 M1309.1,374.7 L1297.6,417.8 M1313.4,376.2 L1301.9,419.3 M1317.7,374.7 L1329.2,443.7 M1323.5,392.0 L1333.5,443.7 M1323.5,392.0 L1356.5,426.5 M1332.1,400.6 L1352.2,420.7" stroke-width="1.5"/>
<path d="M1260.2,392.0 Q1248.7,422.1 1220.0,443.7 M1264.5,393.4 Q1254.5,426.5 1222.9,449.4 M1297.6,417.8 Q1283.2,450.9 1258.8,469.6 M1301.9,419.3 Q1289.0,452.3 1263.1,472.4 M1280.4,415.0 Q1267.4,437.9 1248.7,453.8 M1220.0,374.7 L1300.5,429.3 M1225.7,370.4 L1280.4,409.2 M1220.0,380.5 L1274.6,419.3" stroke-width="1.5"/>
<path d="M1220.0,392.0 Q1237.2,392.0 1235.8,409.2 Q1228.6,429.3 1220.0,437.9 M1220.0,417.8 L1228.6,413.5" stroke-width="1.5"/>
<path d="M1287.5,455.2 Q1306.2,446.6 1314.8,458.1 L1300.5,479.6 M1314.8,458.1 L1323.5,462.4 L1346.5,452.3 L1355.1,460.9 M1323.5,462.4 L1320.6,485.4 M1346.5,452.3 L1343.6,458.1" stroke-width="1.5"/>
<path d="M1376.6,406.3 L1392.4,419.3 L1389.6,429.3 L1376.6,432.2 L1375.2,458.1 L1389.6,476.7 L1385.3,520.0 M1378.8,409.2 L1390.3,420.0 L1388.1,427.9 L1378.8,430.0 L1377.3,457.3 L1391.7,476.0 L1387.4,520.0 M1380.9,412.1 L1388.1,420.7 M1381.7,443.7 L1379.5,456.6 L1393.9,474.6 L1389.6,520.0" stroke-width="1.5"/>
<path d="M1392.4,433.6 Q1401.1,443.7 1389.6,458.1 M1396.7,389.1 Q1389.6,392.0 1385.3,400.6" stroke-width="1.5"/>
<path d="M1220.0,452.3 L1243.0,468.1 L1255.9,506.9 L1267.4,520.0 M1220.0,455.9 L1240.8,470.3 L1253.8,508.4 L1263.1,520.0 M1224.3,452.3 L1245.1,466.7 L1258.1,505.5 L1270.3,520.0" stroke-width="1.5"/>
<path d="M1255.9,468.1 L1253.1,479.6 L1266.0,485.4 M1267.4,469.6 L1263.1,498.3 L1294.7,512.7 L1297.6,498.3 M1300.5,479.6 L1320.6,485.4 L1317.7,515.5 M1333.5,483.9 L1356.5,501.2 L1363.7,469.6 L1346.5,458.1 M1335.0,486.8 L1353.6,504.0 M1363.7,469.6 L1375.2,476.7 M1323.5,486.8 L1335.0,481.1 M1340.7,491.1 L1337.8,515.5 M1300.5,498.3 L1320.6,506.9 M1356.5,501.2 L1378.1,495.4 M1277.5,504.0 L1291.8,520.0 M1306.2,512.7 L1309.1,520.0" stroke-width="1.5"/>
<path d="M1346.5,458.1 Q1357.9,469.6 1355.1,486.8 M1352.2,460.9 Q1363.7,472.4 1360.8,489.7" stroke-width="1.5"/>
<path d="M1385.1,480.0 L1382.3,537.5 L1377.9,595.0 L1369.3,700.0 M1388.0,480.0 L1385.1,537.5 L1380.8,595.0 L1372.2,700.0 M1381.5,480.0 L1378.7,537.5 L1374.8,580.6" stroke-width="1.5"/>
<path d="M1398.1,523.1 Q1392.3,528.9 1388.0,529.6 M1392.3,566.2 Q1388.0,572.0 1383.7,573.4" stroke-width="1.2"/>
<path d="M1307.5,517.4 Q1311.8,530.3 1310.4,541.8 L1305.4,609.3 M1301.8,511.6 Q1317.6,523.1 1317.6,547.5 L1313.3,606.5 M1317.6,547.5 L1329.1,540.4 L1339.2,518.8 M1324.8,497.2 L1314.7,508.7 L1339.2,518.8 L1349.2,508.7 L1340.6,494.4 M1317.6,547.5 L1320.5,534.6 L1333.4,526.0" stroke-width="1.5"/>
<path d="M1248.6,487.2 L1258.7,511.6 L1286.0,526.0 L1300.4,513.1 M1252.9,485.7 L1261.6,508.7 L1286.0,521.7 L1297.5,511.6 M1258.7,511.6 L1261.6,508.7 M1268.7,514.5 L1287.4,523.1 M1283.1,501.6 L1297.5,494.4 L1300.4,505.9" stroke-width="1.5"/>
<ellipse cx="1278.798677970973" cy="487.184940364995" rx="9" ry="10.4" transform="rotate(-25 1278.798677970973 487.184940364995)" stroke-width="1.5"/>
<ellipse cx="1279.5171720074723" cy="487.90343440149445" rx="5.4" ry="6.4" transform="rotate(-25 1279.5171720074723 487.90343440149445)" stroke-width="1.2"/>
<path d="M1326.2,480.0 L1317.6,508.7 M1332.0,480.0 L1324.8,497.2 M1340.6,494.4 L1349.2,480.0 M1340.6,494.4 Q1352.1,505.9 1349.2,517.4 L1347.8,560.5 M1349.2,508.7 Q1360.7,515.9 1362.1,530.3 M1334.8,498.7 L1352.1,507.3 L1359.3,495.8 M1340.6,488.6 L1353.5,495.8 M1363.6,501.6 L1377.9,494.4 M1366.5,508.7 L1377.9,505.9" stroke-width="1.5"/>
<path d="M1332.0,560.5 L1375.1,579.2 M1332.0,566.2 L1375.1,583.7 M1332.0,593.5 L1373.6,609.3 M1333.4,598.1 L1373.6,613.9 M1332.0,560.5 L1329.1,617.9 M1339.2,564.1 L1336.3,616.5 M1375.1,572.0 L1372.9,615.1 M1327.7,540.4 L1326.2,556.2 L1332.0,560.5 M1346.3,569.1 L1344.9,595.0 M1363.6,576.3 L1362.1,603.6" stroke-width="1.5"/>
<ellipse cx="1372.2029027159074" cy="544.6644632849548" rx="10.4" ry="12" transform="rotate(-20 1372.2029027159074 544.6644632849548)" fill="#fff" stroke-width="1.5"/>
<ellipse cx="1372.921396752407" cy="545.3829573214542" rx="6.6" ry="7.8" transform="rotate(-20 1372.921396752407 545.3829573214542)" stroke-width="1.2"/>
<ellipse cx="1373.3524931743066" cy="545.814053743354" rx="3.6" ry="4.4" transform="rotate(-20 1373.3524931743066 545.814053743354)" stroke-width="1.2"/>
<path d="M1290.3,617.9 L1303.2,609.3 L1339.2,623.7 L1337.7,630.9 L1320.5,643.8 L1309.0,638.1 Z M1290.3,617.9 L1291.7,623.7 L1309.0,638.1 M1303.2,609.3 L1314.7,622.3 L1339.2,623.7 M1314.7,622.3 L1309.0,629.4" fill="#fff" stroke-width="1.5"/>
<ellipse cx="1314.7233797959477" cy="637.3501939933899" rx="3.8" ry="4.4" transform="rotate(0 1314.7233797959477 637.3501939933899)" stroke-width="1.5"/>
<path d="M1303.2,632.3 L1307.5,652.4 L1301.8,700.0 M1305.4,630.9 L1310.4,652.4 L1305.4,700.0 M1314.7,645.3 L1309.0,700.0 M1340.6,623.7 L1337.7,700.0 M1343.5,617.9 L1340.6,666.8 M1359.3,609.3 L1353.5,674.0 Q1353.5,684.0 1359.3,692.7 L1363.6,700.0" stroke-width="1.5"/>
<ellipse cx="1362.1439862049144" cy="645.2536283948843" rx="3.4" ry="3.8" transform="rotate(0 1362.1439862049144 645.2536283948843)" stroke-width="1.2"/>
<ellipse cx="1359.2700100589166" cy="688.3632705848541" rx="3.4" ry="3.8" transform="rotate(0 1359.2700100589166 688.3632705848541)" stroke-width="1.2"/>
<path d="M1367.9,649.6 L1365.0,669.7 M1370.0,652.4 L1367.2,671.1" stroke-width="1.5"/>
<path d="M1302.7,625.2 Q1305.3,631.8 1304.7,637.0 L1301.4,695.8 L1275.3,706.2 L1288.3,740.2 L1304.7,744.8 L1312.5,759.8 M1306.6,627.8 L1306.0,638.3 L1303.4,697.7 L1278.5,707.5 L1290.3,738.2 L1306.0,742.8 L1314.5,757.2 M1309.2,630.5 L1307.9,646.1 L1305.3,699.0 L1281.8,708.8 L1292.3,736.3 L1307.3,740.8" stroke-width="1.5"/>
<path d="M1315.8,646.1 L1312.5,693.2 Q1311.2,701.0 1307.9,702.3 M1344.5,620.0 L1338.0,691.8 Q1335.4,701.0 1313.2,703.6" stroke-width="1.5"/>
<path d="M1382.4,620.0 L1370.6,724.5 M1378.5,620.0 L1367.4,723.2 M1360.2,620.0 L1353.7,677.5 Q1355.0,685.3 1360.2,687.9 M1370.6,724.5 L1371.9,738.9 L1360.2,767.0 M1368.7,724.5 L1369.6,738.2 L1358.2,764.4 M1365.4,723.2 L1366.7,737.6 L1356.3,762.4 L1348.4,758.5" stroke-width="1.5"/>
<path d="M1381.1,704.9 Q1375.9,710.1 1373.2,710.1 M1370.6,724.5 Q1382.4,719.3 1381.1,704.9" stroke-width="1.5"/>
<path d="M1368.0,651.4 L1365.4,669.6 M1370.6,659.2 L1373.2,660.5 M1362.8,698.4 L1360.2,719.3 M1364.8,708.8 L1369.3,711.4" stroke-width="1.5"/>
<ellipse cx="1362.7955584585238" cy="644.8203788373612" rx="3.6" ry="4" transform="rotate(0 1362.7955584585238 644.8203788373612)" stroke-width="1.2"/>
<ellipse cx="1359.5297191378183" cy="688.5826257348139" rx="3.6" ry="4" transform="rotate(0 1359.5297191378183 688.5826257348139)" stroke-width="1.2"/>
<path d="M1296.2,710.1 L1318.4,703.6 Q1323.6,711.4 1321.0,720.6 L1302.7,731.0" stroke-width="1.5"/>
<ellipse cx="1298.1319399085564" cy="720.587851077727" rx="10.4" ry="12" transform="rotate(-20 1298.1319399085564 720.587851077727)" fill="#fff" stroke-width="1.5"/>
<ellipse cx="1298.7851077726975" cy="721.2410189418681" rx="6.6" ry="7.8" transform="rotate(-20 1298.7851077726975 721.2410189418681)" stroke-width="1.2"/>
<ellipse cx="1299.1770084911823" cy="721.6329196603527" rx="3.6" ry="4.4" transform="rotate(-20 1299.1770084911823 721.6329196603527)" stroke-width="1.2"/>
<ellipse cx="1354.957544088831" cy="742.7955584585238" rx="10" ry="11.6" transform="rotate(-20 1354.957544088831 742.7955584585238)" fill="#fff" stroke-width="1.5"/>
<ellipse cx="1355.610711952972" cy="743.4487263226649" rx="6.2" ry="7.4" transform="rotate(-20 1355.610711952972 743.4487263226649)" stroke-width="1.2"/>
<ellipse cx="1356.0026126714565" cy="743.8406270411496" rx="3.4" ry="4.2" transform="rotate(-20 1356.0026126714565 743.8406270411496)" stroke-width="1.2"/>
<path d="M1349.7,733.7 L1361.5,724.5 M1302.7,731.0 Q1318.4,729.7 1331.4,735.0 Q1341.9,737.6 1344.5,741.5" stroke-width="1.5"/>
<path d="M1313.2,750.6 Q1328.8,737.6 1343.2,751.9 M1315.1,754.6 Q1328.8,742.8 1340.6,755.9 M1317.1,758.5 Q1328.8,748.0 1338.6,759.8 M1307.9,745.4 Q1313.2,737.6 1321.0,735.0 M1339.3,763.7 L1340.6,757.2 L1348.4,761.1" stroke-width="1.5"/>
<path d="M1314.5,748.7 Q1328.8,735.0 1344.5,749.3" stroke-width="2.4"/>
<!-- p33_screws.py -->
<g transform="translate(1170.9,183.5) rotate(145.8) scale(1.0)">
<path d="M37,0 L55.4,0" stroke-width="1.4"/>
<path d="M1,-4.9 L22,-4.9 Q30,-4.2 34.5,0 Q30,4.2 22,4.9 L1,4.9 Z" fill="#fff" stroke-width="2"/>
<path d="M4.8,-4.9 Q7.8,0 5.8,4.9 M7.999999999999999,-4.9 Q11.0,0 9.0,4.9 M11.200000000000001,-4.9 Q14.200000000000001,0 12.200000000000001,4.9 M14.4,-4.9 Q17.4,0 15.4,4.9 M17.6,-4.9 Q20.6,0 18.6,4.9 M20.8,-4.9 Q23.8,0 21.8,4.9 " stroke-width="2"/>
<path d="M2.5,-8.8 C-3.4,-8.8 -4.4,-3 -4.4,0 C-4.4,3 -3.4,8.8 2.5,8.8 C4.8,8.8 4.8,5.5 4.2,4.9 L4.2,-4.9 C4.8,-5.5 4.8,-8.8 2.5,-8.8 Z" fill="#111" stroke-width="1.2"/>
<path d="M4.2,-3.8 L6,-3.8 L6,3.8 L4.2,3.8 Z" fill="#fff" stroke="none"/>
</g>
<g transform="translate(1208.9,189.8) rotate(145.8) scale(1.0)">
<path d="M37,0 L46.9,0" stroke-width="1.4"/>
<path d="M1,-4.9 L22,-4.9 Q30,-4.2 34.5,0 Q30,4.2 22,4.9 L1,4.9 Z" fill="#fff" stroke-width="2"/>
<path d="M4.8,-4.9 Q7.8,0 5.8,4.9 M7.999999999999999,-4.9 Q11.0,0 9.0,4.9 M11.200000000000001,-4.9 Q14.200000000000001,0 12.200000000000001,4.9 M14.4,-4.9 Q17.4,0 15.4,4.9 M17.6,-4.9 Q20.6,0 18.6,4.9 M20.8,-4.9 Q23.8,0 21.8,4.9 " stroke-width="2"/>
<path d="M2.5,-8.8 C-3.4,-8.8 -4.4,-3 -4.4,0 C-4.4,3 -3.4,8.8 2.5,8.8 C4.8,8.8 4.8,5.5 4.2,4.9 L4.2,-4.9 C4.8,-5.5 4.8,-8.8 2.5,-8.8 Z" fill="#111" stroke-width="1.2"/>
<path d="M4.2,-3.8 L6,-3.8 L6,3.8 L4.2,3.8 Z" fill="#fff" stroke="none"/>
</g>
<g transform="translate(1298.3,236.7) rotate(145.8) scale(1.0)">
<path d="M37,0 L57.7,0" stroke-width="1.4"/>
<path d="M1,-4.9 L22,-4.9 Q30,-4.2 34.5,0 Q30,4.2 22,4.9 L1,4.9 Z" fill="#fff" stroke-width="2"/>
<path d="M4.8,-4.9 Q7.8,0 5.8,4.9 M7.999999999999999,-4.9 Q11.0,0 9.0,4.9 M11.200000000000001,-4.9 Q14.200000000000001,0 12.200000000000001,4.9 M14.4,-4.9 Q17.4,0 15.4,4.9 M17.6,-4.9 Q20.6,0 18.6,4.9 M20.8,-4.9 Q23.8,0 21.8,4.9 " stroke-width="2"/>
<path d="M2.5,-8.8 C-3.4,-8.8 -4.4,-3 -4.4,0 C-4.4,3 -3.4,8.8 2.5,8.8 C4.8,8.8 4.8,5.5 4.2,4.9 L4.2,-4.9 C4.8,-5.5 4.8,-8.8 2.5,-8.8 Z" fill="#111" stroke-width="1.2"/>
<path d="M4.2,-3.8 L6,-3.8 L6,3.8 L4.2,3.8 Z" fill="#fff" stroke="none"/>
</g>
<g transform="translate(1351.7,275) rotate(145.8) scale(1.0)">
<path d="M37,0 L47.1,0" stroke-width="1.4"/>
<path d="M1,-4.9 L22,-4.9 Q30,-4.2 34.5,0 Q30,4.2 22,4.9 L1,4.9 Z" fill="#fff" stroke-width="2"/>
<path d="M4.8,-4.9 Q7.8,0 5.8,4.9 M7.999999999999999,-4.9 Q11.0,0 9.0,4.9 M11.200000000000001,-4.9 Q14.200000000000001,0 12.200000000000001,4.9 M14.4,-4.9 Q17.4,0 15.4,4.9 M17.6,-4.9 Q20.6,0 18.6,4.9 M20.8,-4.9 Q23.8,0 21.8,4.9 " stroke-width="2"/>
<path d="M2.5,-8.8 C-3.4,-8.8 -4.4,-3 -4.4,0 C-4.4,3 -3.4,8.8 2.5,8.8 C4.8,8.8 4.8,5.5 4.2,4.9 L4.2,-4.9 C4.8,-5.5 4.8,-8.8 2.5,-8.8 Z" fill="#111" stroke-width="1.2"/>
<path d="M4.2,-3.8 L6,-3.8 L6,3.8 L4.2,3.8 Z" fill="#fff" stroke="none"/>
</g>
<g transform="translate(1373.3,299.3) rotate(145.8) scale(1.0)">
<path d="M37,0 L51.3,0" stroke-width="1.4"/>
<path d="M1,-4.9 L22,-4.9 Q30,-4.2 34.5,0 Q30,4.2 22,4.9 L1,4.9 Z" fill="#fff" stroke-width="2"/>
<path d="M4.8,-4.9 Q7.8,0 5.8,4.9 M7.999999999999999,-4.9 Q11.0,0 9.0,4.9 M11.200000000000001,-4.9 Q14.200000000000001,0 12.200000000000001,4.9 M14.4,-4.9 Q17.4,0 15.4,4.9 M17.6,-4.9 Q20.6,0 18.6,4.9 M20.8,-4.9 Q23.8,0 21.8,4.9 " stroke-width="2"/>
<path d="M2.5,-8.8 C-3.4,-8.8 -4.4,-3 -4.4,0 C-4.4,3 -3.4,8.8 2.5,8.8 C4.8,8.8 4.8,5.5 4.2,4.9 L4.2,-4.9 C4.8,-5.5 4.8,-8.8 2.5,-8.8 Z" fill="#111" stroke-width="1.2"/>
<path d="M4.2,-3.8 L6,-3.8 L6,3.8 L4.2,3.8 Z" fill="#fff" stroke="none"/>
</g>
<g transform="translate(1438.3,340.7) rotate(145.8) scale(1.0)">
<path d="M37,0 L51.1,0" stroke-width="1.4"/>
<path d="M1,-4.9 L22,-4.9 Q30,-4.2 34.5,0 Q30,4.2 22,4.9 L1,4.9 Z" fill="#fff" stroke-width="2"/>
<path d="M4.8,-4.9 Q7.8,0 5.8,4.9 M7.999999999999999,-4.9 Q11.0,0 9.0,4.9 M11.200000000000001,-4.9 Q14.200000000000001,0 12.200000000000001,4.9 M14.4,-4.9 Q17.4,0 15.4,4.9 M17.6,-4.9 Q20.6,0 18.6,4.9 M20.8,-4.9 Q23.8,0 21.8,4.9 " stroke-width="2"/>
<path d="M2.5,-8.8 C-3.4,-8.8 -4.4,-3 -4.4,0 C-4.4,3 -3.4,8.8 2.5,8.8 C4.8,8.8 4.8,5.5 4.2,4.9 L4.2,-4.9 C4.8,-5.5 4.8,-8.8 2.5,-8.8 Z" fill="#111" stroke-width="1.2"/>
<path d="M4.2,-3.8 L6,-3.8 L6,3.8 L4.2,3.8 Z" fill="#fff" stroke="none"/>
</g>
<g transform="translate(1448.3,376.7) rotate(145.8) scale(1.0)">
<path d="M37,0 L47.6,0" stroke-width="1.4"/>
<path d="M1,-4.9 L22,-4.9 Q30,-4.2 34.5,0 Q30,4.2 22,4.9 L1,4.9 Z" fill="#fff" stroke-width="2"/>
<path d="M4.8,-4.9 Q7.8,0 5.8,4.9 M7.999999999999999,-4.9 Q11.0,0 9.0,4.9 M11.200000000000001,-4.9 Q14.200000000000001,0 12.200000000000001,4.9 M14.4,-4.9 Q17.4,0 15.4,4.9 M17.6,-4.9 Q20.6,0 18.6,4.9 M20.8,-4.9 Q23.8,0 21.8,4.9 " stroke-width="2"/>
<path d="M2.5,-8.8 C-3.4,-8.8 -4.4,-3 -4.4,0 C-4.4,3 -3.4,8.8 2.5,8.8 C4.8,8.8 4.8,5.5 4.2,4.9 L4.2,-4.9 C4.8,-5.5 4.8,-8.8 2.5,-8.8 Z" fill="#111" stroke-width="1.2"/>
<path d="M4.2,-3.8 L6,-3.8 L6,3.8 L4.2,3.8 Z" fill="#fff" stroke="none"/>
</g>
<g transform="translate(1458.3,479.6) rotate(145.8) scale(1.0)">
<path d="M37,0 L71.9,0" stroke-width="1.4"/>
<path d="M1,-4.9 L22,-4.9 Q30,-4.2 34.5,0 Q30,4.2 22,4.9 L1,4.9 Z" fill="#fff" stroke-width="2"/>
<path d="M4.8,-4.9 Q7.8,0 5.8,4.9 M7.999999999999999,-4.9 Q11.0,0 9.0,4.9 M11.200000000000001,-4.9 Q14.200000000000001,0 12.200000000000001,4.9 M14.4,-4.9 Q17.4,0 15.4,4.9 M17.6,-4.9 Q20.6,0 18.6,4.9 M20.8,-4.9 Q23.8,0 21.8,4.9 " stroke-width="2"/>
<path d="M2.5,-8.8 C-3.4,-8.8 -4.4,-3 -4.4,0 C-4.4,3 -3.4,8.8 2.5,8.8 C4.8,8.8 4.8,5.5 4.2,4.9 L4.2,-4.9 C4.8,-5.5 4.8,-8.8 2.5,-8.8 Z" fill="#111" stroke-width="1.2"/>
<path d="M4.2,-3.8 L6,-3.8 L6,3.8 L4.2,3.8 Z" fill="#fff" stroke="none"/>
</g>
<g transform="translate(1448.3,617.3) rotate(145.8) scale(1.0)">
<path d="M37,0 L74.6,0" stroke-width="1.4"/>
<path d="M1,-4.9 L22,-4.9 Q30,-4.2 34.5,0 Q30,4.2 22,4.9 L1,4.9 Z" fill="#fff" stroke-width="2"/>
<path d="M4.8,-4.9 Q7.8,0 5.8,4.9 M7.999999999999999,-4.9 Q11.0,0 9.0,4.9 M11.200000000000001,-4.9 Q14.200000000000001,0 12.200000000000001,4.9 M14.4,-4.9 Q17.4,0 15.4,4.9 M17.6,-4.9 Q20.6,0 18.6,4.9 M20.8,-4.9 Q23.8,0 21.8,4.9 " stroke-width="2"/>
<path d="M2.5,-8.8 C-3.4,-8.8 -4.4,-3 -4.4,0 C-4.4,3 -3.4,8.8 2.5,8.8 C4.8,8.8 4.8,5.5 4.2,4.9 L4.2,-4.9 C4.8,-5.5 4.8,-8.8 2.5,-8.8 Z" fill="#111" stroke-width="1.2"/>
<path d="M4.2,-3.8 L6,-3.8 L6,3.8 L4.2,3.8 Z" fill="#fff" stroke="none"/>
</g>
<g transform="translate(1439.3,676.7) rotate(145.8) scale(1.0)">
<path d="M37,0 L66.4,0" stroke-width="1.4"/>
<path d="M1,-4.9 L22,-4.9 Q30,-4.2 34.5,0 Q30,4.2 22,4.9 L1,4.9 Z" fill="#fff" stroke-width="2"/>
<path d="M4.8,-4.9 Q7.8,0 5.8,4.9 M7.999999999999999,-4.9 Q11.0,0 9.0,4.9 M11.200000000000001,-4.9 Q14.200000000000001,0 12.200000000000001,4.9 M14.4,-4.9 Q17.4,0 15.4,4.9 M17.6,-4.9 Q20.6,0 18.6,4.9 M20.8,-4.9 Q23.8,0 21.8,4.9 " stroke-width="2"/>
<path d="M2.5,-8.8 C-3.4,-8.8 -4.4,-3 -4.4,0 C-4.4,3 -3.4,8.8 2.5,8.8 C4.8,8.8 4.8,5.5 4.2,4.9 L4.2,-4.9 C4.8,-5.5 4.8,-8.8 2.5,-8.8 Z" fill="#111" stroke-width="1.2"/>
<path d="M4.2,-3.8 L6,-3.8 L6,3.8 L4.2,3.8 Z" fill="#fff" stroke="none"/>
</g>
<g transform="translate(750,1090.7) rotate(143) scale(0.82)">
<path d="M37,0 L53.2,0" stroke-width="1.4"/>
<path d="M1,-4.9 L22,-4.9 Q30,-4.2 34.5,0 Q30,4.2 22,4.9 L1,4.9 Z" fill="#fff" stroke-width="2"/>
<path d="M4.8,-4.9 Q7.8,0 5.8,4.9 M7.999999999999999,-4.9 Q11.0,0 9.0,4.9 M11.200000000000001,-4.9 Q14.200000000000001,0 12.200000000000001,4.9 M14.4,-4.9 Q17.4,0 15.4,4.9 M17.6,-4.9 Q20.6,0 18.6,4.9 M20.8,-4.9 Q23.8,0 21.8,4.9 " stroke-width="2"/>
<path d="M2.5,-8.8 C-3.4,-8.8 -4.4,-3 -4.4,0 C-4.4,3 -3.4,8.8 2.5,8.8 C4.8,8.8 4.8,5.5 4.2,4.9 L4.2,-4.9 C4.8,-5.5 4.8,-8.8 2.5,-8.8 Z" fill="#111" stroke-width="1.2"/>
<path d="M4.2,-3.8 L6,-3.8 L6,3.8 L4.2,3.8 Z" fill="#fff" stroke="none"/>
</g>
<g transform="translate(775,1109.3) rotate(143) scale(0.82)">
<path d="M37,0 L48.5,0" stroke-width="1.4"/>
<path d="M1,-4.9 L22,-4.9 Q30,-4.2 34.5,0 Q30,4.2 22,4.9 L1,4.9 Z" fill="#fff" stroke-width="2"/>
<path d="M4.8,-4.9 Q7.8,0 5.8,4.9 M7.999999999999999,-4.9 Q11.0,0 9.0,4.9 M11.200000000000001,-4.9 Q14.200000000000001,0 12.200000000000001,4.9 M14.4,-4.9 Q17.4,0 15.4,4.9 M17.6,-4.9 Q20.6,0 18.6,4.9 M20.8,-4.9 Q23.8,0 21.8,4.9 " stroke-width="2"/>
<path d="M2.5,-8.8 C-3.4,-8.8 -4.4,-3 -4.4,0 C-4.4,3 -3.4,8.8 2.5,8.8 C4.8,8.8 4.8,5.5 4.2,4.9 L4.2,-4.9 C4.8,-5.5 4.8,-8.8 2.5,-8.8 Z" fill="#111" stroke-width="1.2"/>
<path d="M4.2,-3.8 L6,-3.8 L6,3.8 L4.2,3.8 Z" fill="#fff" stroke="none"/>
</g>
<g transform="translate(216.5,107.2) rotate(34.2)">
<path d="M52,0 L64,0" stroke-width="1.4"/>
<path d="M3,-4.3 L50,-4.3 Q53,-4.3 53,0 Q53,4.3 50,4.3 L3,4.3 Z" fill="#fff" stroke-width="1.5"/>
<path d="M10.0,-4.3 Q12.5,0 11.0,4.3 M13.7,-4.3 Q16.2,0 14.7,4.3 M17.4,-4.3 Q19.9,0 18.4,4.3 M21.1,-4.3 Q23.6,0 22.1,4.3 M24.8,-4.3 Q27.3,0 25.8,4.3 M28.5,-4.3 Q31.0,0 29.5,4.3 M32.2,-4.3 Q34.7,0 33.2,4.3 M35.900000000000006,-4.3 Q38.400000000000006,0 36.900000000000006,4.3 M39.6,-4.3 Q42.1,0 40.6,4.3 M43.300000000000004,-4.3 Q45.800000000000004,0 44.300000000000004,4.3 M47.0,-4.3 Q49.5,0 48.0,4.3 " stroke-width="1.5"/>
<path d="M0,-10 Q6,-6.5 9,-4.3 L9,4.3 Q6,6.5 0,10 Z" fill="#fff" stroke-width="1.6"/>
<ellipse cx="0" cy="0" rx="3.6" ry="10.2" fill="#fff" stroke-width="1.7"/>
<ellipse cx="50" cy="0" rx="1.8" ry="3.8" stroke-width="1.2"/>
</g>
<!-- p34_sidehandle.py -->
<path d="M243.4,564.3 L304.5,610.1" stroke-width="1.4"/>
<path d="M114.4,703.7 L74.3,827.8 Q71.0,857.1 95.5,865.3 Q124.9,870.2 146.1,857.1 L180.4,723.3 Z" fill="#fff" stroke-width="2.1"/>
<path d="M165.7,726.5 L127.5,863.7 M162.4,724.9 L124.2,863.0" stroke-width="1.6"/>
<path d="M75.3,830.4 Q98.8,857.1 147.1,854.5" stroke-width="2.1"/>
<path d="M72.7,839.2 Q98.8,865.3 144.5,860.4" stroke-width="1.5"/>
<g transform="translate(160.2,670.4) rotate(12)">
<ellipse rx="67.9" ry="49.6" cy="2" fill="#fff" stroke-width="2.1"/>
<ellipse rx="67.3" ry="48.6" fill="#fff" stroke-width="2.1"/>
<ellipse rx="44.5" ry="32.3" cx="1" cy="4" stroke-width="1.5"/>
<ellipse rx="40.8" ry="28.9" cx="1" cy="4" stroke-width="1.5"/>
<ellipse rx="36.7" ry="25.5" cx="1" cy="4" stroke-width="1.5"/>
<ellipse rx="31.6" ry="21.4" cx="1" cy="4" stroke-width="3.0"/>
</g>
<path d="M260.4,484.9 L289.3,505.7 Q296.9,520.9 287.6,546.4 Q274.0,578.7 229.8,622.8 L199.3,650.0 L189.1,658.5 L178.9,665.3 L185.7,646.6 Q212.8,622.8 229.8,602.5 Q217.9,605.9 212.8,599.1 Q223.0,578.7 231.5,558.3 Q246.8,534.5 265.5,517.6 Z" fill="#fff" stroke-width="2.1"/>
<path d="M267.2,515.9 Q280.8,509.1 287.6,510.8 M288.4,514.2 Q285.9,541.3 267.2,571.9 Q246.8,602.5 212.8,633.0 L192.5,650.0" stroke-width="2.1"/>
<path d="M289.9,514.5 L292.7,524.3 L281.8,527.4 L279.1,517.6 Z M284.3,527.9 L287.7,537.4 L277.2,541.2 L273.8,531.6 Z M277.7,541.2 L282.1,550.3 L271.9,555.1 L267.5,545.9 Z M268.7,554.6 L273.8,563.2 L264.0,568.8 L258.9,560.2 Z M256.3,567.8 L262.9,575.6 L254.3,582.8 L247.7,575.0 Z M243.4,579.5 L250.9,586.5 L243.4,594.8 L235.9,587.9 Z M228.8,588.2 L237.3,594.0 L230.8,603.1 L222.4,597.4 Z " stroke-width="3.0"/>
<path d="M207.7,610.1 L216.2,599.1 M211.1,611.8 L219.6,600.8 M201.0,620.3 L209.4,609.3 M204.4,622.0 L212.8,611.0 M195.9,630.5 L204.4,619.4 M199.3,632.2 L207.7,621.1 M190.8,640.7 L199.3,629.6 M194.2,642.4 L202.7,631.3 M185.7,649.2 L194.2,638.1 M189.1,650.9 L197.6,639.8 " stroke-width="3.4"/>
<path d="M219.6,588.9 Q223.0,599.1 229.8,600.8 Q223.0,604.2 217.9,600.8 Q215.4,595.7 219.6,588.9 Z" stroke-width="3"/>
<path d="M263.8,520.9 L255.3,531.1 L257.0,534.5 L248.5,541.3 L249.4,545.6 L241.7,551.5 L243.4,555.8 L236.6,561.7 L238.3,566.0 L230.7,571.9 L231.5,576.1 L225.6,582.1" stroke-width="1.6"/>
<path d="M155.1,591.4 L134.7,655.1 Q141.5,678.9 170.4,672.1 L190.8,609.3 Z" fill="#fff" stroke-width="2.1"/>
<path d="M186.5,611.0 L170.0,665.3 Q170.4,671.2 177.2,670.4 L190.8,661.1 L195.9,653.4 L212.8,604.2 Z" fill="#fff" stroke-width="2.1"/>
<path d="M191.6,612.7 L177.2,661.9 L172.1,667.8 M177.2,661.9 L191.6,655.1" stroke-width="1.8"/>
<path d="M144.9,578.7 Q145.8,565.1 155.1,556.6 Q161.9,549.8 178.9,544.7 L189.1,534.5 L199.3,519.2 L251.9,484.4 Q257.0,482.7 260.7,484.9 L289.3,506.0 L268.9,514.5 L231.5,543.0 L223.0,558.3 L211.1,570.2 Q209.4,582.1 204.4,592.3 Q195.9,607.6 178.9,610.6 L148.3,587.2 Z" fill="#fff" stroke-width="2.1"/>
<path d="M199.3,519.2 L231.5,543.0 M236.6,493.8 L268.9,514.5 M202.7,522.6 L195.9,537.9 L223.0,558.3 M189.1,534.5 L217.9,554.9 M178.9,544.7 L207.7,565.1 M171.2,554.9 L201.0,577.0 M148.3,565.1 Q161.9,558.3 171.2,554.9" stroke-width="1.9"/>
<path d="M201.0,577.0 Q185.7,583.8 178.9,610.6 M204.4,578.7 Q190.8,587.2 182.3,609.3 M201.0,577.0 L211.1,570.2 M147.5,580.4 L178.9,604.2" stroke-width="1.9"/>
<path d="M178.9,554.9 L186.5,544.7 L201.0,545.6 L209.4,556.6 L202.7,568.5 L187.4,567.6 Z" fill="#fff" stroke-width="1.9"/>
<ellipse cx="194.2" cy="557.5" rx="11" ry="9.5" transform="rotate(25 194.2 557.5)" stroke-width="1.9"/>
<!-- p35_rod.py -->
<path d="M33.3,168.2 Q33.3,159.9 41.6,159.9 L404.7,434.7 L396.4,448.0 L388.1,443.0 Z" fill="#fff" stroke-width="2.0"/>
<path d="M111.6,229.8 L393.1,444.7" stroke-width="3.4"/>
<path d="M119.9,220.5 L401.4,433.1" stroke-width="1.6"/>
<path d="M111.6,229.8 L119.9,220.5" stroke-width="2.0"/>
<path d="M113.9,228.5 L394.4,443.0 L399.7,435.7 L119.9,222.5 Z" fill="#111" stroke-width="1"/>
<path d="M118.6,231.8 L128.6,239.5 L131.9,235.2 L121.6,227.5 Z M134.6,244.2 L144.6,251.8 L147.9,247.5 L137.9,239.8 Z M150.6,256.5 L160.9,264.2 L163.9,259.8 L153.9,252.2 Z M166.9,268.5 L176.9,276.2 L180.2,272.2 L169.9,264.5 Z M182.9,280.8 L192.9,288.5 L196.2,284.5 L186.2,276.8 Z M198.9,293.1 L208.9,300.8 L212.2,296.5 L202.2,288.8 Z M215.2,305.5 L225.2,313.1 L228.2,308.8 L218.2,301.1 Z M231.2,317.8 L241.2,325.5 L244.5,321.1 L234.5,313.5 Z M247.2,330.1 L257.2,337.8 L260.5,333.4 L250.5,325.8 Z M263.2,342.4 L273.5,350.1 L276.5,345.8 L266.5,338.1 Z M279.5,354.4 L289.5,362.4 L292.8,358.1 L282.5,350.4 Z M295.5,366.8 L305.5,374.4 L308.8,370.4 L298.8,362.8 Z M311.5,379.1 L321.8,386.7 L324.8,382.7 L314.8,375.1 Z M327.8,391.4 L337.8,399.1 L341.1,394.7 L330.8,387.1 Z M343.8,403.7 L353.8,411.4 L357.1,407.1 L347.1,399.4 Z M359.8,416.1 L370.1,423.7 L373.1,419.4 L363.1,411.7 Z M376.1,428.4 L386.1,436.0 L389.4,431.7 L379.1,424.1 Z " fill="#fff" stroke-width="0.5" stroke="#fff"/>
<path d="M396.4,448.0 L404.7,434.7" stroke-width="2"/>
<!-- p90_labels.py -->
<path d="M256,40 L256,107" stroke-width="1.4"/>
<circle cx="256" cy="28" r="12.2" fill="#fff" stroke-width="1.25"/>
<path d="M1,3.2 L4,0 L4,15" transform="translate(252.4,20.5)" stroke-width="1.05"/>
<path d="M338,87 L338,136" stroke-width="1.4"/>
<circle cx="338" cy="75" r="12.2" fill="#fff" stroke-width="1.25"/>
<path d="M0.2,3.2 C0.5,-1 6,-1 6,3.5 C6,6.5 3,9 0,15 L6.2,15" transform="translate(335.0,67.5)" stroke-width="1.05"/>
<path d="M490,207 L490,277" stroke-width="1.4"/>
<circle cx="490" cy="195" r="12.2" fill="#fff" stroke-width="1.25"/>
<path d="M0.2,2.6 C1,-1 6,-1 6,3.5 C6,6 4.5,7 2.5,7 C4.5,7 6.2,8 6.2,11 C6.2,16 1,16 0,12.4" transform="translate(487.0,187.5)" stroke-width="1.05"/>
<path d="M535.6,242 L535.6,296.5" stroke-width="1.4"/>
<circle cx="535.6" cy="229.4" r="12.2" fill="#fff" stroke-width="1.25"/>
<path d="M3.8,0 L0,11 L6.5,11 M4.6,5 L4.6,15" transform="translate(532.6,221.9)" stroke-width="1.05"/>
<path d="M567.7,301.5 L567.7,356.4" stroke-width="1.4"/>
<circle cx="567.7" cy="289.4" r="12.2" fill="#fff" stroke-width="1.25"/>
<path d="M5.8,0 L1,0 L0.4,6.8 C2,5 6.2,5 6.2,10 C6.2,16 1,16 0,12.4" transform="translate(564.7,281.9)" stroke-width="1.05"/>
<path d="M610,328 L610,383" stroke-width="1.4"/>
<circle cx="610" cy="316" r="12.2" fill="#fff" stroke-width="1.25"/>
<path d="M5.6,1.6 C4,-1 0,-0.5 0,5 L0,11 C0,16.2 6.2,16.2 6.2,10.6 C6.2,5.8 1,5.8 0,9.6" transform="translate(607.0,308.5)" stroke-width="1.05"/>
<path d="M659,352 L659,406" stroke-width="1.4"/>
<circle cx="659" cy="340" r="12.2" fill="#fff" stroke-width="1.25"/>
<path d="M0,0 L6,0 L2,15" transform="translate(656.0,332.5)" stroke-width="1.05"/>
<path d="M688,387 L688,445" stroke-width="1.4"/>
<circle cx="688" cy="375" r="12.2" fill="#fff" stroke-width="1.25"/>
<path d="M3,7 C-0.6,7 -0.6,0 3,0 C6.6,0 6.6,7 3,7 C-1.2,7 -1.2,15 3,15 C7.2,15 7.2,7 3,7" transform="translate(685.0,367.5)" stroke-width="1.05"/>
<path d="M742,385 L742,440" stroke-width="1.4"/>
<circle cx="742" cy="373" r="12.2" fill="#fff" stroke-width="1.25"/>
<path d="M0.4,13.4 C2,16 6,15.5 6,10 L6,4 C6,-1.2 -0.2,-1.2 -0.2,4.4 C-0.2,9.2 5,9.2 6,5.4" transform="translate(739.0,365.5)" stroke-width="1.05"/>
<path d="M743,576 L743,523" stroke-width="1.4"/>
<circle cx="743" cy="588" r="12.2" fill="#fff" stroke-width="1.25"/>
<path d="M1,3.2 L4,0 L4,15" transform="translate(736.2,580.5)" stroke-width="1.05"/>
<path d="M0,3.5 C0,-1.2 6,-1.2 6,3.5 L6,11.5 C6,16.2 0,16.2 0,11.5 Z" transform="translate(743.8,580.5)" stroke-width="1.05"/>
<path d="M784,464 L784,518" stroke-width="1.4"/>
<circle cx="784" cy="452" r="12.2" fill="#fff" stroke-width="1.25"/>
<path d="M1,3.2 L4,0 L4,15" transform="translate(777.2,444.5)" stroke-width="1.05"/>
<path d="M1,3.2 L4,0 L4,15" transform="translate(784.8,444.5)" stroke-width="1.05"/>
<path d="M856,467 L856,523" stroke-width="1.4"/>
<circle cx="856" cy="455" r="12.2" fill="#fff" stroke-width="1.25"/>
<path d="M1,3.2 L4,0 L4,15" transform="translate(849.2,447.5)" stroke-width="1.05"/>
<path d="M0.2,3.2 C0.5,-1 6,-1 6,3.5 C6,6.5 3,9 0,15 L6.2,15" transform="translate(856.8,447.5)" stroke-width="1.05"/>
<path d="M888,568 L888,622" stroke-width="1.4"/>
<circle cx="888" cy="556" r="12.2" fill="#fff" stroke-width="1.25"/>
<path d="M1,3.2 L4,0 L4,15" transform="translate(881.2,548.5)" stroke-width="1.05"/>
<path d="M0.2,2.6 C1,-1 6,-1 6,3.5 C6,6 4.5,7 2.5,7 C4.5,7 6.2,8 6.2,11 C6.2,16 1,16 0,12.4" transform="translate(888.8,548.5)" stroke-width="1.05"/>
<path d="M1042,657 L1042,712" stroke-width="1.4"/>
<circle cx="1042" cy="645" r="12.2" fill="#fff" stroke-width="1.25"/>
<path d="M1,3.2 L4,0 L4,15" transform="translate(1035.2,637.5)" stroke-width="1.05"/>
<path d="M3.8,0 L0,11 L6.5,11 M4.6,5 L4.6,15" transform="translate(1042.8,637.5)" stroke-width="1.05"/>
<path d="M1200,755 L1170,755" stroke-width="1.4"/>
<circle cx="1212" cy="755" r="12.2" fill="#fff" stroke-width="1.25"/>
<path d="M1,3.2 L4,0 L4,15" transform="translate(1205.2,747.5)" stroke-width="1.05"/>
<path d="M5.8,0 L1,0 L0.4,6.8 C2,5 6.2,5 6.2,10 C6.2,16 1,16 0,12.4" transform="translate(1212.8,747.5)" stroke-width="1.05"/>
<path d="M1220,676 L1180,676" stroke-width="1.4"/>
<circle cx="1232" cy="676" r="12.2" fill="#fff" stroke-width="1.25"/>
<path d="M1,3.2 L4,0 L4,15" transform="translate(1225.2,668.5)" stroke-width="1.05"/>
<path d="M5.6,1.6 C4,-1 0,-0.5 0,5 L0,11 C0,16.2 6.2,16.2 6.2,10.6 C6.2,5.8 1,5.8 0,9.6" transform="translate(1232.8,668.5)" stroke-width="1.05"/>
<path d="M1243,614 L1203,614" stroke-width="1.4"/>
<circle cx="1255" cy="614" r="12.2" fill="#fff" stroke-width="1.25"/>
<path d="M1,3.2 L4,0 L4,15" transform="translate(1248.2,606.5)" stroke-width="1.05"/>
<path d="M0,0 L6,0 L2,15" transform="translate(1255.8,606.5)" stroke-width="1.05"/>
<path d="M1206,823 L1187,852" stroke-width="1.4"/>
<circle cx="1213" cy="813" r="12.2" fill="#fff" stroke-width="1.25"/>
<path d="M1,3.2 L4,0 L4,15" transform="translate(1206.2,805.5)" stroke-width="1.05"/>
<path d="M3,7 C-0.6,7 -0.6,0 3,0 C6.6,0 6.6,7 3,7 C-1.2,7 -1.2,15 3,15 C7.2,15 7.2,7 3,7" transform="translate(1213.8,805.5)" stroke-width="1.05"/>
<path d="M1334,839 L1334,897" stroke-width="1.4"/>
<circle cx="1334" cy="827" r="12.2" fill="#fff" stroke-width="1.25"/>
<path d="M1,3.2 L4,0 L4,15" transform="translate(1327.2,819.5)" stroke-width="1.05"/>
<path d="M0.4,13.4 C2,16 6,15.5 6,10 L6,4 C6,-1.2 -0.2,-1.2 -0.2,4.4 C-0.2,9.2 5,9.2 6,5.4" transform="translate(1334.8,819.5)" stroke-width="1.05"/>
<path d="M1236,1192 L1293,1192" stroke-width="1.4"/>
<circle cx="1224" cy="1192" r="12.2" fill="#fff" stroke-width="1.25"/>
<path d="M0.2,3.2 C0.5,-1 6,-1 6,3.5 C6,6.5 3,9 0,15 L6.2,15" transform="translate(1217.2,1184.5)" stroke-width="1.05"/>
<path d="M0,3.5 C0,-1.2 6,-1.2 6,3.5 L6,11.5 C6,16.2 0,16.2 0,11.5 Z" transform="translate(1224.8,1184.5)" stroke-width="1.05"/>
<path d="M926,1010 L885,1027" stroke-width="1.4"/>
<circle cx="937" cy="1005" r="12.2" fill="#fff" stroke-width="1.25"/>
<path d="M0.2,3.2 C0.5,-1 6,-1 6,3.5 C6,6.5 3,9 0,15 L6.2,15" transform="translate(930.2,997.5)" stroke-width="1.05"/>
<path d="M1,3.2 L4,0 L4,15" transform="translate(937.8,997.5)" stroke-width="1.05"/>
<path d="M937,919 L890,919" stroke-width="1.4"/>
<circle cx="949" cy="919" r="12.2" fill="#fff" stroke-width="1.25"/>
<path d="M0.2,3.2 C0.5,-1 6,-1 6,3.5 C6,6.5 3,9 0,15 L6.2,15" transform="translate(942.2,911.5)" stroke-width="1.05"/>
<path d="M0.2,3.2 C0.5,-1 6,-1 6,3.5 C6,6.5 3,9 0,15 L6.2,15" transform="translate(949.8,911.5)" stroke-width="1.05"/>
<path d="M877,838 L830,838" stroke-width="1.4"/>
<circle cx="889" cy="838" r="12.2" fill="#fff" stroke-width="1.25"/>
<path d="M0.2,3.2 C0.5,-1 6,-1 6,3.5 C6,6.5 3,9 0,15 L6.2,15" transform="translate(882.2,830.5)" stroke-width="1.05"/>
<path d="M0.2,2.6 C1,-1 6,-1 6,3.5 C6,6 4.5,7 2.5,7 C4.5,7 6.2,8 6.2,11 C6.2,16 1,16 0,12.4" transform="translate(889.8,830.5)" stroke-width="1.05"/>
<path d="M803,728 L755,728" stroke-width="1.4"/>
<circle cx="815" cy="728" r="12.2" fill="#fff" stroke-width="1.25"/>
<path d="M0.2,3.2 C0.5,-1 6,-1 6,3.5 C6,6.5 3,9 0,15 L6.2,15" transform="translate(808.2,720.5)" stroke-width="1.05"/>
<path d="M3.8,0 L0,11 L6.5,11 M4.6,5 L4.6,15" transform="translate(815.8,720.5)" stroke-width="1.05"/>
<path d="M784,1188 L742,1152" stroke-width="1.4"/>
<circle cx="793" cy="1196" r="12.2" fill="#fff" stroke-width="1.25"/>
<path d="M0.2,3.2 C0.5,-1 6,-1 6,3.5 C6,6.5 3,9 0,15 L6.2,15" transform="translate(786.2,1188.5)" stroke-width="1.05"/>
<path d="M5.8,0 L1,0 L0.4,6.8 C2,5 6.2,5 6.2,10 C6.2,16 1,16 0,12.4" transform="translate(793.8,1188.5)" stroke-width="1.05"/>
<path d="M839,1117 L785,1117" stroke-width="1.4"/>
<circle cx="851" cy="1117" r="12.2" fill="#fff" stroke-width="1.25"/>
<path d="M0.2,3.2 C0.5,-1 6,-1 6,3.5 C6,6.5 3,9 0,15 L6.2,15" transform="translate(844.2,1109.5)" stroke-width="1.05"/>
<path d="M5.6,1.6 C4,-1 0,-0.5 0,5 L0,11 C0,16.2 6.2,16.2 6.2,10.6 C6.2,5.8 1,5.8 0,9.6" transform="translate(851.8,1109.5)" stroke-width="1.05"/>
<path d="M624,1275 L577,1275" stroke-width="1.4"/>
<circle cx="636" cy="1275" r="12.2" fill="#fff" stroke-width="1.25"/>
<path d="M0.2,3.2 C0.5,-1 6,-1 6,3.5 C6,6.5 3,9 0,15 L6.2,15" transform="translate(629.2,1267.5)" stroke-width="1.05"/>
<path d="M0,0 L6,0 L2,15" transform="translate(636.8,1267.5)" stroke-width="1.05"/>
<path d="M610,1397 L557,1397" stroke-width="1.4"/>
<circle cx="622" cy="1397" r="12.2" fill="#fff" stroke-width="1.25"/>
<path d="M0.2,3.2 C0.5,-1 6,-1 6,3.5 C6,6.5 3,9 0,15 L6.2,15" transform="translate(615.2,1389.5)" stroke-width="1.05"/>
<path d="M3,7 C-0.6,7 -0.6,0 3,0 C6.6,0 6.6,7 3,7 C-1.2,7 -1.2,15 3,15 C7.2,15 7.2,7 3,7" transform="translate(622.8,1389.5)" stroke-width="1.05"/>
<path d="M358,529 L358,577" stroke-width="1.4"/>
<circle cx="358" cy="517" r="12.2" fill="#fff" stroke-width="1.25"/>
<path d="M0.2,3.2 C0.5,-1 6,-1 6,3.5 C6,6.5 3,9 0,15 L6.2,15" transform="translate(351.2,509.5)" stroke-width="1.05"/>
<path d="M0.4,13.4 C2,16 6,15.5 6,10 L6,4 C6,-1.2 -0.2,-1.2 -0.2,4.4 C-0.2,9.2 5,9.2 6,5.4" transform="translate(358.8,509.5)" stroke-width="1.05"/>
<path d="M451,525 L451,558" stroke-width="1.4"/>
<circle cx="451" cy="513" r="12.2" fill="#fff" stroke-width="1.25"/>
<path d="M0.2,2.6 C1,-1 6,-1 6,3.5 C6,6 4.5,7 2.5,7 C4.5,7 6.2,8 6.2,11 C6.2,16 1,16 0,12.4" transform="translate(444.2,505.5)" stroke-width="1.05"/>
<path d="M0,3.5 C0,-1.2 6,-1.2 6,3.5 L6,11.5 C6,16.2 0,16.2 0,11.5 Z" transform="translate(451.8,505.5)" stroke-width="1.05"/>
<path d="M615,611 L573,611" stroke-width="1.4"/>
<circle cx="627" cy="611" r="12.2" fill="#fff" stroke-width="1.25"/>
<path d="M0.2,2.6 C1,-1 6,-1 6,3.5 C6,6 4.5,7 2.5,7 C4.5,7 6.2,8 6.2,11 C6.2,16 1,16 0,12.4" transform="translate(620.2,603.5)" stroke-width="1.05"/>
<path d="M1,3.2 L4,0 L4,15" transform="translate(627.8,603.5)" stroke-width="1.05"/>
<path d="M1094,131 L1094,186" stroke-width="1.4"/>
<circle cx="1094" cy="119" r="12.2" fill="#fff" stroke-width="1.25"/>
<path d="M0.2,2.6 C1,-1 6,-1 6,3.5 C6,6 4.5,7 2.5,7 C4.5,7 6.2,8 6.2,11 C6.2,16 1,16 0,12.4" transform="translate(1087.2,111.5)" stroke-width="1.05"/>
<path d="M0.2,3.2 C0.5,-1 6,-1 6,3.5 C6,6.5 3,9 0,15 L6.2,15" transform="translate(1094.8,111.5)" stroke-width="1.05"/>
<path d="M1171,118 L1171,171" stroke-width="1.4"/>
<circle cx="1171" cy="106" r="12.2" fill="#fff" stroke-width="1.25"/>
<path d="M0.2,2.6 C1,-1 6,-1 6,3.5 C6,6 4.5,7 2.5,7 C4.5,7 6.2,8 6.2,11 C6.2,16 1,16 0,12.4" transform="translate(1164.2,98.5)" stroke-width="1.05"/>
<path d="M0.2,2.6 C1,-1 6,-1 6,3.5 C6,6 4.5,7 2.5,7 C4.5,7 6.2,8 6.2,11 C6.2,16 1,16 0,12.4" transform="translate(1171.8,98.5)" stroke-width="1.05"/>
<path d="M195,440 L210,500" stroke-width="1.4"/>
<circle cx="192" cy="428" r="12.2" fill="#fff" stroke-width="1.25"/>
<path d="M0.2,2.6 C1,-1 6,-1 6,3.5 C6,6 4.5,7 2.5,7 C4.5,7 6.2,8 6.2,11 C6.2,16 1,16 0,12.4" transform="translate(185.2,420.5)" stroke-width="1.05"/>
<path d="M3.8,0 L0,11 L6.5,11 M4.6,5 L4.6,15" transform="translate(192.8,420.5)" stroke-width="1.05"/>
<path d="M152,343 L197,298" stroke-width="1.4"/>
<circle cx="143" cy="351" r="12.2" fill="#fff" stroke-width="1.25"/>
<path d="M0.2,2.6 C1,-1 6,-1 6,3.5 C6,6 4.5,7 2.5,7 C4.5,7 6.2,8 6.2,11 C6.2,16 1,16 0,12.4" transform="translate(136.2,343.5)" stroke-width="1.05"/>
<path d="M5.8,0 L1,0 L0.4,6.8 C2,5 6.2,5 6.2,10 C6.2,16 1,16 0,12.4" transform="translate(143.8,343.5)" stroke-width="1.05"/>
</g>
</svg>
</body></html>
